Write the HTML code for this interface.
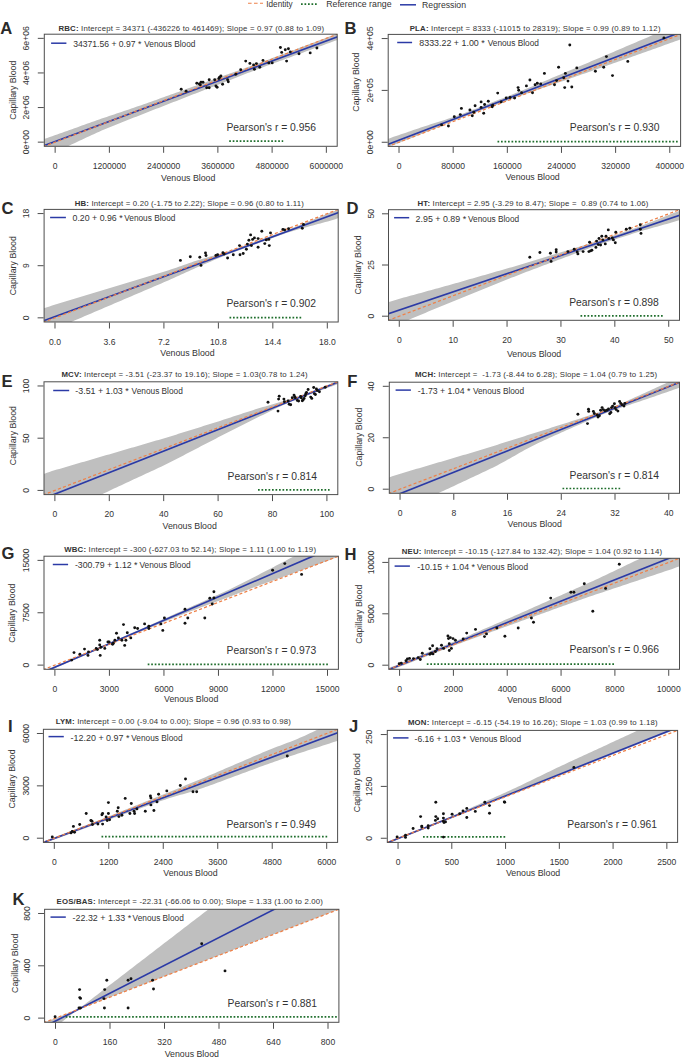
<!DOCTYPE html>
<html><head><meta charset="utf-8"><style>
html,body{margin:0;padding:0;background:#fff;width:685px;height:1059px;overflow:hidden}
svg{display:block}
text{font-family:"Liberation Sans", sans-serif}
</style></head><body>
<svg width="685" height="1059" viewBox="0 0 685 1059" font-family='"Liberation Sans", sans-serif' fill="#333333">
<line x1="248" y1="3.3" x2="263" y2="3.3" stroke="#ee8149" stroke-width="1.1" stroke-dasharray="3.6 2.4"/>
<text x="266.3" y="7" font-size="8.6" textLength="26.3" lengthAdjust="spacingAndGlyphs">Identity</text>
<line x1="301" y1="4.2" x2="318" y2="4.2" stroke="#1f6e2c" stroke-width="1.7" stroke-dasharray="1.7 1.8"/>
<text x="326.2" y="7" font-size="8.6" textLength="65.4" lengthAdjust="spacingAndGlyphs">Reference range</text>
<line x1="400" y1="4.8" x2="416" y2="4.8" stroke="#2b3aa6" stroke-width="1.5"/>
<text x="422.1" y="8.3" font-size="8.6" textLength="43.9" lengthAdjust="spacingAndGlyphs">Regression</text>
<clipPath id="c0"><rect x="44.3" y="34.2" width="292.9" height="112.1"/></clipPath>
<g clip-path="url(#c0)"><polygon points="42.3,139.77 44.77,138.87 47.25,137.98 49.72,137.08 52.2,136.18 54.67,135.3 57.14,134.42 59.62,133.54 62.09,132.66 64.57,131.78 67.04,130.9 69.52,130.02 71.99,129.14 74.46,128.26 76.94,127.38 79.41,126.5 81.89,125.61 84.36,124.73 86.83,123.85 89.31,122.97 91.78,122.09 94.26,121.22 96.73,120.35 99.21,119.48 101.68,118.62 104.15,117.77 106.63,116.92 109.1,116.07 111.58,115.23 114.05,114.4 116.52,113.56 119,112.73 121.47,111.9 123.95,111.06 126.42,110.23 128.9,109.4 131.37,108.56 133.84,107.72 136.32,106.87 138.79,106.01 141.27,105.15 143.74,104.29 146.21,103.42 148.69,102.54 151.16,101.66 153.64,100.77 156.11,99.89 158.59,99 161.06,98.12 163.53,97.23 166.01,96.34 168.48,95.46 170.96,94.57 173.43,93.69 175.9,92.8 178.38,91.92 180.85,91.03 183.33,90.15 185.8,89.26 188.28,88.37 190.75,87.49 193.22,86.6 195.7,85.72 198.17,84.83 200.65,83.95 203.12,83.06 205.59,82.18 208.07,81.29 210.54,80.4 213.02,79.52 215.49,78.63 217.97,77.75 220.44,76.86 222.91,75.98 225.39,75.09 227.86,74.21 230.34,73.32 232.81,72.44 235.28,71.55 237.76,70.66 240.23,69.78 242.71,68.89 245.18,68.01 247.66,67.12 250.13,66.24 252.6,65.35 255.08,64.45 257.55,63.55 260.03,62.64 262.5,61.73 264.97,60.82 267.45,59.9 269.92,58.97 272.4,58.04 274.87,57.11 277.35,56.18 279.82,55.24 282.29,54.31 284.77,53.38 287.24,52.45 289.72,51.52 292.19,50.59 294.66,49.66 297.14,48.73 299.61,47.79 302.09,46.86 304.56,45.93 307.04,45 309.51,44.07 311.98,43.14 314.46,42.21 316.93,41.28 319.41,40.34 321.88,39.41 324.36,38.48 326.83,37.55 329.3,36.62 331.78,35.7 334.25,34.77 336.73,33.85 339.2,32.92 339.2,39.28 336.73,40.19 334.25,41.11 331.78,42.02 329.3,42.93 326.83,43.84 324.36,44.74 321.88,45.65 319.41,46.55 316.93,47.46 314.46,48.37 311.98,49.27 309.51,50.18 307.04,51.08 304.56,51.99 302.09,52.89 299.61,53.8 297.14,54.71 294.66,55.61 292.19,56.52 289.72,57.42 287.24,58.33 284.77,59.24 282.29,60.14 279.82,61.05 277.35,61.95 274.87,62.86 272.4,63.76 269.92,64.67 267.45,65.58 264.97,66.5 262.5,67.43 260.03,68.36 257.55,69.3 255.08,70.25 252.6,71.2 250.13,72.16 247.66,73.12 245.18,74.09 242.71,75.05 240.23,76.02 237.76,76.99 235.28,77.95 232.81,78.92 230.34,79.88 227.86,80.85 225.39,81.82 222.91,82.78 220.44,83.75 217.97,84.71 215.49,85.68 213.02,86.65 210.54,87.61 208.07,88.58 205.59,89.54 203.12,90.51 200.65,91.48 198.17,92.44 195.7,93.41 193.22,94.37 190.75,95.34 188.28,96.31 185.8,97.27 183.33,98.24 180.85,99.2 178.38,100.17 175.9,101.14 173.43,102.1 170.96,103.07 168.48,104.03 166.01,105 163.53,105.96 161.06,106.93 158.59,107.9 156.11,108.86 153.64,109.83 151.16,110.79 148.69,111.76 146.21,112.73 143.74,113.7 141.27,114.67 138.79,115.65 136.32,116.63 133.84,117.6 131.37,118.58 128.9,119.57 126.42,120.55 123.95,121.53 121.47,122.52 119,123.5 116.52,124.49 114.05,125.47 111.58,126.46 109.1,127.46 106.63,128.49 104.15,129.53 101.68,130.59 99.21,131.67 96.73,132.78 94.26,133.9 91.78,135.04 89.31,136.19 86.83,137.35 84.36,138.5 81.89,139.66 79.41,140.82 76.94,141.97 74.46,143.13 71.99,144.29 69.52,145.46 67.04,146.63 64.57,147.81 62.09,148.98 59.62,150.17 57.14,151.35 54.67,152.55 52.2,153.74 49.72,154.79 47.25,155.85 44.77,156.91 42.3,157.96" fill="#bfbfbf"/><line x1="229.2" y1="141.1" x2="283.2" y2="141.1" stroke="#1f6e2c" stroke-width="1.7" stroke-dasharray="1.7 1.8"/><line x1="42.3" y1="146.32" x2="339.2" y2="36.1" stroke="#2b3aa6" stroke-width="1.65"/><line x1="28.03" y1="152.53" x2="353.47" y2="27.97" stroke="#ee8149" stroke-width="1.25" stroke-dasharray="3.1 2.3"/><circle cx="181.2" cy="89.2" r="1.45" fill="#111"/><circle cx="186.1" cy="91.2" r="1.45" fill="#111"/><circle cx="196.8" cy="83.2" r="1.45" fill="#111"/><circle cx="199.3" cy="84" r="1.45" fill="#111"/><circle cx="201" cy="82.2" r="1.45" fill="#111"/><circle cx="203" cy="82.2" r="1.45" fill="#111"/><circle cx="200.3" cy="84.7" r="1.45" fill="#111"/><circle cx="206.7" cy="87.7" r="1.45" fill="#111"/><circle cx="209.2" cy="87.7" r="1.45" fill="#111"/><circle cx="209.2" cy="79.7" r="1.45" fill="#111"/><circle cx="214.7" cy="79.7" r="1.45" fill="#111"/><circle cx="215.9" cy="86" r="1.45" fill="#111"/><circle cx="217.1" cy="87.2" r="1.45" fill="#111"/><circle cx="218.9" cy="78.5" r="1.45" fill="#111"/><circle cx="220.9" cy="76" r="1.45" fill="#111"/><circle cx="219.6" cy="77.3" r="1.45" fill="#111"/><circle cx="222.6" cy="84.2" r="1.45" fill="#111"/><circle cx="227.6" cy="79.7" r="1.45" fill="#111"/><circle cx="228.3" cy="81.7" r="1.45" fill="#111"/><circle cx="235.8" cy="74.3" r="1.45" fill="#111"/><circle cx="240.7" cy="69.8" r="1.45" fill="#111"/><circle cx="245.7" cy="61.1" r="1.45" fill="#111"/><circle cx="249.9" cy="63.4" r="1.45" fill="#111"/><circle cx="253.6" cy="64.9" r="1.45" fill="#111"/><circle cx="254.4" cy="69.3" r="1.45" fill="#111"/><circle cx="256.4" cy="63.6" r="1.45" fill="#111"/><circle cx="259.8" cy="67.3" r="1.45" fill="#111"/><circle cx="263" cy="60.4" r="1.45" fill="#111"/><circle cx="268.8" cy="62.9" r="1.45" fill="#111"/><circle cx="272.2" cy="62.9" r="1.45" fill="#111"/><circle cx="280.4" cy="47.5" r="1.45" fill="#111"/><circle cx="281.7" cy="52.4" r="1.45" fill="#111"/><circle cx="286.6" cy="61.1" r="1.45" fill="#111"/><circle cx="288.4" cy="48.7" r="1.45" fill="#111"/><circle cx="290.3" cy="51.9" r="1.45" fill="#111"/><circle cx="299" cy="53.7" r="1.45" fill="#111"/><circle cx="310.2" cy="52.9" r="1.45" fill="#111"/><circle cx="316.9" cy="48" r="1.45" fill="#111"/><circle cx="285.3" cy="49.7" r="1.45" fill="#111"/></g>
<rect x="44.3" y="34.2" width="292.9" height="112.1" fill="none" stroke="#4d4d4d" stroke-width="1"/>
<text x="55.15" y="168.9" text-anchor="middle" font-size="8.6">0</text>
<text x="109.39" y="168.9" text-anchor="middle" font-size="8.6">1200000</text>
<text x="163.63" y="168.9" text-anchor="middle" font-size="8.6">2400000</text>
<text x="217.87" y="168.9" text-anchor="middle" font-size="8.6">3600000</text>
<text x="272.11" y="168.9" text-anchor="middle" font-size="8.6">4800000</text>
<text x="326.35" y="168.9" text-anchor="middle" font-size="8.6">6000000</text>
<text transform="translate(29.4 142.15) rotate(-90)" text-anchor="middle" font-size="8.6">0e+00</text>
<text transform="translate(29.4 107.55) rotate(-90)" text-anchor="middle" font-size="8.6">2e+06</text>
<text transform="translate(29.4 72.95) rotate(-90)" text-anchor="middle" font-size="8.6">4e+06</text>
<text transform="translate(29.4 38.35) rotate(-90)" text-anchor="middle" font-size="8.6">6e+06</text>
<path d="M55.15 146.8v6M109.39 146.8v6M163.63 146.8v6M217.87 146.8v6M272.11 146.8v6M326.35 146.8v6M43.8 142.15h-6M43.8 107.55h-6M43.8 72.95h-6M43.8 38.35h-6" stroke="#4d4d4d" stroke-width="1" fill="none"/>
<text x="161.1" y="181" font-size="8.8">Venous Blood</text>
<text transform="translate(16.2 90.25) rotate(-90)" text-anchor="middle" font-size="8.8">Capillary Blood</text>
<text x="58.4" y="31.1" font-size="7.8" textLength="265.8" lengthAdjust="spacing" style="white-space:pre"><tspan font-weight="bold">RBC:</tspan> Intercept = 34371 (-436226 to 461469); Slope = 0.97 (0.88 to 1.09)</text>
<line x1="51.1" y1="43.2" x2="66.4" y2="43.2" stroke="#2b3aa6" stroke-width="1.5"/>
<text x="73.2" y="47.1" font-size="9.1" textLength="68.1" lengthAdjust="spacingAndGlyphs" style="white-space:pre">34371.56 + 0.97 *</text>
<text x="144.2" y="47.1" font-size="8.3">Venous Blood</text>
<text x="226.4" y="131.1" font-size="10.6" textLength="89.6" lengthAdjust="spacingAndGlyphs">Pearson's r = 0.956</text>
<text x="0.3" y="33.5" font-size="16.6" font-weight="bold" fill="#2a2a2a">A</text>
<clipPath id="c1"><rect x="388.2" y="34.4" width="292.4" height="112"/></clipPath>
<g clip-path="url(#c1)"><polygon points="386.2,139.54 388.67,138.65 391.14,137.76 393.61,136.87 396.08,135.98 398.55,135.14 401.02,134.3 403.49,133.46 405.96,132.63 408.43,131.79 410.9,130.95 413.37,130.11 415.84,129.27 418.31,128.44 420.78,127.6 423.25,126.78 425.72,125.96 428.19,125.15 430.66,124.35 433.13,123.56 435.6,122.77 438.07,121.99 440.54,121.22 443.01,120.45 445.48,119.67 447.95,118.87 450.42,118.05 452.89,117.21 455.36,116.35 457.83,115.47 460.3,114.56 462.77,113.64 465.24,112.7 467.71,111.74 470.18,110.79 472.65,109.84 475.12,108.88 477.59,107.93 480.06,106.97 482.53,106.02 485,105.07 487.47,104.11 489.94,103.16 492.41,102.21 494.88,101.25 497.35,100.3 499.82,99.35 502.29,98.39 504.76,97.44 507.23,96.49 509.7,95.53 512.17,94.57 514.64,93.6 517.11,92.61 519.58,91.62 522.05,90.62 524.52,89.6 526.99,88.58 529.46,87.54 531.93,86.49 534.4,85.45 536.87,84.4 539.34,83.35 541.81,82.3 544.28,81.25 546.75,80.21 549.22,79.16 551.69,78.11 554.16,77.06 556.63,76.01 559.1,74.97 561.57,73.92 564.04,72.87 566.51,71.82 568.98,70.77 571.45,69.73 573.92,68.68 576.39,67.63 578.86,66.58 581.33,65.53 583.8,64.49 586.27,63.44 588.74,62.39 591.21,61.34 593.68,60.29 596.15,59.24 598.62,58.19 601.09,57.14 603.56,56.09 606.03,55.04 608.5,53.99 610.97,52.94 613.44,51.88 615.91,50.83 618.38,49.78 620.85,48.73 623.32,47.67 625.79,46.62 628.26,45.57 630.73,44.51 633.2,43.46 635.67,42.41 638.14,41.36 640.61,40.3 643.08,39.25 645.55,38.2 648.02,37.14 650.49,36.09 652.96,35.04 655.43,33.99 657.9,32.93 660.37,31.88 662.84,30.83 665.31,29.77 667.78,28.72 670.25,27.67 672.72,26.62 675.19,25.62 677.66,24.62 680.13,23.62 682.6,22.62 682.6,38.58 680.13,39.5 677.66,40.41 675.19,41.32 672.72,42.23 670.25,43.11 667.78,43.99 665.31,44.87 662.84,45.75 660.37,46.63 657.9,47.51 655.43,48.39 652.96,49.27 650.49,50.14 648.02,51.02 645.55,51.9 643.08,52.78 640.61,53.66 638.14,54.54 635.67,55.42 633.2,56.3 630.73,57.18 628.26,58.06 625.79,58.93 623.32,59.81 620.85,60.69 618.38,61.57 615.91,62.45 613.44,63.33 610.97,64.21 608.5,65.09 606.03,65.96 603.56,66.84 601.09,67.71 598.62,68.58 596.15,69.44 593.68,70.31 591.21,71.17 588.74,72.03 586.27,72.89 583.8,73.75 581.33,74.61 578.86,75.47 576.39,76.33 573.92,77.19 571.45,78.05 568.98,78.91 566.51,79.77 564.04,80.63 561.57,81.49 559.1,82.35 556.63,83.21 554.16,84.07 551.69,84.93 549.22,85.79 546.75,86.65 544.28,87.5 541.81,88.36 539.34,89.22 536.87,90.08 534.4,90.94 531.93,91.8 529.46,92.66 526.99,93.53 524.52,94.41 522.05,95.29 519.58,96.17 517.11,97.07 514.64,97.97 512.17,98.88 509.7,99.79 507.23,100.71 504.76,101.63 502.29,102.55 499.82,103.47 497.35,104.39 494.88,105.31 492.41,106.23 489.94,107.15 487.47,108.07 485,108.99 482.53,109.91 480.06,110.83 477.59,111.75 475.12,112.67 472.65,113.59 470.18,114.51 467.71,115.43 465.24,116.35 462.77,117.28 460.3,118.22 457.83,119.17 455.36,120.14 452.89,121.12 450.42,122.11 447.95,123.12 445.48,124.15 443.01,125.18 440.54,126.23 438.07,127.27 435.6,128.3 433.13,129.33 430.66,130.34 428.19,131.35 425.72,132.35 423.25,133.34 420.78,134.31 418.31,135.28 415.84,136.25 413.37,137.21 410.9,138.18 408.43,139.14 405.96,140.11 403.49,141.07 401.02,142.03 398.55,143 396.08,143.96 393.61,144.92 391.14,145.87 388.67,146.83 386.2,147.78" fill="#bfbfbf"/><line x1="497.5" y1="141.7" x2="678.5" y2="141.7" stroke="#1f6e2c" stroke-width="1.7" stroke-dasharray="1.7 1.8"/><line x1="386.2" y1="145.01" x2="682.6" y2="31.47" stroke="#2b3aa6" stroke-width="1.65"/><line x1="371.96" y1="152.62" x2="696.84" y2="28.18" stroke="#ee8149" stroke-width="1.25" stroke-dasharray="3.1 2.3"/><circle cx="441.6" cy="124.9" r="1.45" fill="#111"/><circle cx="448.4" cy="126" r="1.45" fill="#111"/><circle cx="454.3" cy="116.8" r="1.45" fill="#111"/><circle cx="460.3" cy="114.6" r="1.45" fill="#111"/><circle cx="461.4" cy="108.4" r="1.45" fill="#111"/><circle cx="469.9" cy="110" r="1.45" fill="#111"/><circle cx="472.3" cy="115.7" r="1.45" fill="#111"/><circle cx="473.8" cy="112.2" r="1.45" fill="#111"/><circle cx="475.1" cy="105.8" r="1.45" fill="#111"/><circle cx="481.1" cy="101.9" r="1.45" fill="#111"/><circle cx="481.1" cy="107.4" r="1.45" fill="#111"/><circle cx="483.7" cy="113.3" r="1.45" fill="#111"/><circle cx="484.6" cy="104.5" r="1.45" fill="#111"/><circle cx="488.3" cy="101.2" r="1.45" fill="#111"/><circle cx="492.2" cy="106.7" r="1.45" fill="#111"/><circle cx="492.7" cy="105.2" r="1.45" fill="#111"/><circle cx="497.7" cy="93.1" r="1.45" fill="#111"/><circle cx="501.2" cy="101.9" r="1.45" fill="#111"/><circle cx="506.2" cy="98" r="1.45" fill="#111"/><circle cx="510" cy="97.5" r="1.45" fill="#111"/><circle cx="514.6" cy="98" r="1.45" fill="#111"/><circle cx="518.1" cy="87.6" r="1.45" fill="#111"/><circle cx="518.7" cy="90.3" r="1.45" fill="#111"/><circle cx="521.6" cy="92.7" r="1.45" fill="#111"/><circle cx="526.4" cy="85.9" r="1.45" fill="#111"/><circle cx="529.9" cy="80" r="1.45" fill="#111"/><circle cx="532.5" cy="92.7" r="1.45" fill="#111"/><circle cx="535.1" cy="84.8" r="1.45" fill="#111"/><circle cx="537.3" cy="83.3" r="1.45" fill="#111"/><circle cx="540.7" cy="83.9" r="1.45" fill="#111"/><circle cx="544.4" cy="73.4" r="1.45" fill="#111"/><circle cx="554.5" cy="84.8" r="1.45" fill="#111"/><circle cx="556.6" cy="80.6" r="1.45" fill="#111"/><circle cx="558.6" cy="67.3" r="1.45" fill="#111"/><circle cx="563.7" cy="77.8" r="1.45" fill="#111"/><circle cx="564.7" cy="87.6" r="1.45" fill="#111"/><circle cx="565.4" cy="73.4" r="1.45" fill="#111"/><circle cx="568" cy="81.1" r="1.45" fill="#111"/><circle cx="569.8" cy="45" r="1.45" fill="#111"/><circle cx="571.8" cy="87" r="1.45" fill="#111"/><circle cx="576.8" cy="67.9" r="1.45" fill="#111"/><circle cx="595.4" cy="71.2" r="1.45" fill="#111"/><circle cx="603.7" cy="67.3" r="1.45" fill="#111"/><circle cx="606.4" cy="56.6" r="1.45" fill="#111"/><circle cx="612.5" cy="75.6" r="1.45" fill="#111"/><circle cx="627.8" cy="61.4" r="1.45" fill="#111"/><circle cx="663.9" cy="37.9" r="1.45" fill="#111"/></g>
<rect x="388.2" y="34.4" width="292.4" height="112" fill="none" stroke="#4d4d4d" stroke-width="1"/>
<text x="399.03" y="169" text-anchor="middle" font-size="8.6">0</text>
<text x="453.18" y="169" text-anchor="middle" font-size="8.6">80000</text>
<text x="507.33" y="169" text-anchor="middle" font-size="8.6">160000</text>
<text x="561.47" y="169" text-anchor="middle" font-size="8.6">240000</text>
<text x="615.62" y="169" text-anchor="middle" font-size="8.6">320000</text>
<text x="669.77" y="169" text-anchor="middle" font-size="8.6">400000</text>
<text transform="translate(373.3 142.25) rotate(-90)" text-anchor="middle" font-size="8.6">0e+00</text>
<text transform="translate(373.3 90.4) rotate(-90)" text-anchor="middle" font-size="8.6">2e+05</text>
<text transform="translate(373.3 38.55) rotate(-90)" text-anchor="middle" font-size="8.6">4e+05</text>
<path d="M399.03 146.9v6M453.18 146.9v6M507.33 146.9v6M561.47 146.9v6M615.62 146.9v6M669.77 146.9v6M387.7 142.25h-6M387.7 90.4h-6M387.7 38.55h-6" stroke="#4d4d4d" stroke-width="1" fill="none"/>
<text x="505.4" y="179.9" font-size="8.8">Venous Blood</text>
<text transform="translate(358.5 82.1) rotate(-90)" text-anchor="middle" font-size="8.8">Capillary Blood</text>
<text x="409.7" y="30.7" font-size="7.8" textLength="250.8" lengthAdjust="spacing" style="white-space:pre"><tspan font-weight="bold">PLA:</tspan> Intercept = 8333 (-11015 to 28319); Slope = 0.99 (0.89 to 1.12)</text>
<line x1="397.2" y1="42.5" x2="412.1" y2="42.5" stroke="#2b3aa6" stroke-width="1.5"/>
<text x="419.3" y="46.4" font-size="9.1" textLength="65.4" lengthAdjust="spacingAndGlyphs" style="white-space:pre">8333.22 + 1.00 *</text>
<text x="487.7" y="46.4" font-size="8.3">Venous Blood</text>
<text x="569.8" y="131.4" font-size="10.6" textLength="89.6" lengthAdjust="spacingAndGlyphs">Pearson's r = 0.930</text>
<text x="344.4" y="34" font-size="16.6" font-weight="bold" fill="#2a2a2a">B</text>
<clipPath id="c2"><rect x="44.1" y="209.4" width="294.1" height="112.6"/></clipPath>
<g clip-path="url(#c2)"><polygon points="42.1,308.91 44.58,308.08 47.07,307.25 49.55,306.42 52.04,305.59 54.52,304.84 57.01,304.09 59.49,303.34 61.97,302.6 64.46,301.85 66.94,301.1 69.43,300.35 71.91,299.6 74.39,298.85 76.88,298.1 79.36,297.35 81.85,296.61 84.33,295.86 86.81,295.11 89.3,294.36 91.78,293.61 94.27,292.86 96.75,292.11 99.24,291.37 101.72,290.62 104.2,289.87 106.69,289.12 109.17,288.37 111.66,287.62 114.14,286.87 116.62,286.12 119.11,285.37 121.59,284.62 124.08,283.87 126.56,283.12 129.05,282.37 131.53,281.62 134.01,280.87 136.5,280.12 138.98,279.37 141.47,278.62 143.95,277.87 146.44,277.12 148.92,276.37 151.4,275.62 153.89,274.87 156.37,274.11 158.86,273.35 161.34,272.58 163.82,271.79 166.31,270.99 168.79,270.18 171.28,269.36 173.76,268.52 176.24,267.66 178.73,266.8 181.21,265.93 183.7,265.06 186.18,264.19 188.67,263.32 191.15,262.45 193.63,261.61 196.12,260.79 198.6,259.99 201.09,259.22 203.57,258.47 206.05,257.74 208.54,257.04 211.02,256.37 213.51,255.71 215.99,255.05 218.48,254.35 220.96,253.63 223.44,252.89 225.93,252.11 228.41,251.31 230.9,250.47 233.38,249.61 235.86,248.73 238.35,247.82 240.83,246.91 243.32,246.01 245.8,245.1 248.29,244.2 250.77,243.29 253.25,242.39 255.74,241.48 258.22,240.58 260.71,239.67 263.19,238.77 265.67,237.86 268.16,236.95 270.64,236.05 273.13,235.14 275.61,234.24 278.1,233.33 280.58,232.43 283.06,231.51 285.55,230.57 288.03,229.63 290.52,228.68 293,227.71 295.48,226.73 297.97,225.74 300.45,224.74 302.94,223.73 305.42,222.72 307.91,221.7 310.39,220.69 312.87,219.68 315.36,218.67 317.84,217.66 320.33,216.65 322.81,215.64 325.29,214.62 327.78,213.61 330.26,212.6 332.75,211.64 335.23,210.68 337.72,209.72 340.2,208.75 340.2,217.57 337.72,218.36 335.23,219.16 332.75,219.95 330.26,220.74 327.78,221.41 325.29,222.08 322.81,222.75 320.33,223.42 317.84,224.09 315.36,224.76 312.87,225.43 310.39,226.1 307.91,226.77 305.42,227.44 302.94,228.11 300.45,228.78 297.97,229.47 295.48,230.19 293,230.93 290.52,231.7 288.03,232.5 285.55,233.33 283.06,234.18 280.58,235.06 278.1,235.97 275.61,236.88 273.13,237.8 270.64,238.71 268.16,239.62 265.67,240.54 263.19,241.45 260.71,242.36 258.22,243.27 255.74,244.19 253.25,245.1 250.77,246.01 248.29,246.93 245.8,247.84 243.32,248.75 240.83,249.67 238.35,250.58 235.86,251.49 233.38,252.41 230.9,253.35 228.41,254.3 225.93,255.27 223.44,256.25 220.96,257.25 218.48,258.26 215.99,259.29 213.51,260.33 211.02,261.38 208.54,262.44 206.05,263.5 203.57,264.57 201.09,265.65 198.6,266.74 196.12,267.84 193.63,268.95 191.15,270.07 188.67,271.19 186.18,272.32 183.7,273.44 181.21,274.57 178.73,275.69 176.24,276.81 173.76,277.93 171.28,279.04 168.79,280.14 166.31,281.24 163.82,282.32 161.34,283.4 158.86,284.48 156.37,285.54 153.89,286.6 151.4,287.67 148.92,288.73 146.44,289.79 143.95,290.85 141.47,291.91 138.98,292.97 136.5,294.03 134.01,295.09 131.53,296.15 129.05,297.22 126.56,298.28 124.08,299.34 121.59,300.4 119.11,301.46 116.62,302.52 114.14,303.58 111.66,304.65 109.17,305.71 106.69,306.77 104.2,307.83 101.72,308.89 99.24,309.96 96.75,311.02 94.27,312.08 91.78,313.14 89.3,314.2 86.81,315.27 84.33,316.33 81.85,317.39 79.36,318.45 76.88,319.52 74.39,320.58 71.91,321.65 69.43,322.72 66.94,323.79 64.46,324.86 61.97,325.93 59.49,327.01 57.01,328.08 54.52,329.16 52.04,330.23 49.55,331.23 47.07,332.22 44.58,333.21 42.1,334.21" fill="#bfbfbf"/><line x1="229.5" y1="317.6" x2="301.5" y2="317.6" stroke="#1f6e2c" stroke-width="1.7" stroke-dasharray="1.7 1.8"/><line x1="42.1" y1="321.41" x2="340.2" y2="211.84" stroke="#2b3aa6" stroke-width="1.65"/><line x1="27.76" y1="328.26" x2="354.54" y2="203.14" stroke="#ee8149" stroke-width="1.25" stroke-dasharray="3.1 2.3"/><circle cx="180.4" cy="260.4" r="1.45" fill="#111"/><circle cx="190.3" cy="256.7" r="1.45" fill="#111"/><circle cx="199.8" cy="257.2" r="1.45" fill="#111"/><circle cx="201" cy="265.4" r="1.45" fill="#111"/><circle cx="205.5" cy="253" r="1.45" fill="#111"/><circle cx="206" cy="255.5" r="1.45" fill="#111"/><circle cx="215.9" cy="255.5" r="1.45" fill="#111"/><circle cx="217.6" cy="254.7" r="1.45" fill="#111"/><circle cx="222.9" cy="252.8" r="1.45" fill="#111"/><circle cx="224.1" cy="254" r="1.45" fill="#111"/><circle cx="227.6" cy="258" r="1.45" fill="#111"/><circle cx="233.3" cy="254.7" r="1.45" fill="#111"/><circle cx="239.5" cy="245.6" r="1.45" fill="#111"/><circle cx="240" cy="254.7" r="1.45" fill="#111"/><circle cx="243.2" cy="253.5" r="1.45" fill="#111"/><circle cx="246.4" cy="249.3" r="1.45" fill="#111"/><circle cx="247.4" cy="244.1" r="1.45" fill="#111"/><circle cx="248.9" cy="240.3" r="1.45" fill="#111"/><circle cx="250.6" cy="234.9" r="1.45" fill="#111"/><circle cx="251.4" cy="245.6" r="1.45" fill="#111"/><circle cx="254.4" cy="237.9" r="1.45" fill="#111"/><circle cx="252.6" cy="239.4" r="1.45" fill="#111"/><circle cx="258.1" cy="238.6" r="1.45" fill="#111"/><circle cx="258.1" cy="247.3" r="1.45" fill="#111"/><circle cx="261.8" cy="231.2" r="1.45" fill="#111"/><circle cx="264.8" cy="243.6" r="1.45" fill="#111"/><circle cx="266.3" cy="239.9" r="1.45" fill="#111"/><circle cx="268.8" cy="239.4" r="1.45" fill="#111"/><circle cx="269.3" cy="245.6" r="1.45" fill="#111"/><circle cx="270.5" cy="232.9" r="1.45" fill="#111"/><circle cx="282.9" cy="229.4" r="1.45" fill="#111"/><circle cx="284.6" cy="229.9" r="1.45" fill="#111"/><circle cx="288.6" cy="228.7" r="1.45" fill="#111"/><circle cx="302.3" cy="228.2" r="1.45" fill="#111"/><circle cx="303.5" cy="224.5" r="1.45" fill="#111"/></g>
<rect x="44.1" y="209.4" width="294.1" height="112.6" fill="none" stroke="#4d4d4d" stroke-width="1"/>
<text x="54.99" y="344.6" text-anchor="middle" font-size="8.6">0.0</text>
<text x="109.46" y="344.6" text-anchor="middle" font-size="8.6">3.6</text>
<text x="163.92" y="344.6" text-anchor="middle" font-size="8.6">7.2</text>
<text x="218.38" y="344.6" text-anchor="middle" font-size="8.6">10.8</text>
<text x="272.84" y="344.6" text-anchor="middle" font-size="8.6">14.4</text>
<text x="327.31" y="344.6" text-anchor="middle" font-size="8.6">18.0</text>
<text transform="translate(29.2 317.83) rotate(-90)" text-anchor="middle" font-size="8.6">0</text>
<text transform="translate(29.2 265.7) rotate(-90)" text-anchor="middle" font-size="8.6">9</text>
<text transform="translate(29.2 213.57) rotate(-90)" text-anchor="middle" font-size="8.6">18</text>
<path d="M54.99 322.5v6M109.46 322.5v6M163.92 322.5v6M218.38 322.5v6M272.84 322.5v6M327.31 322.5v6M43.6 317.83h-6M43.6 265.7h-6M43.6 213.57h-6" stroke="#4d4d4d" stroke-width="1" fill="none"/>
<text x="160.3" y="356.1" font-size="8.8">Venous Blood</text>
<text transform="translate(15.8 265.7) rotate(-90)" text-anchor="middle" font-size="8.8">Capillary Blood</text>
<text x="74.7" y="206.2" font-size="7.8" textLength="229.2" lengthAdjust="spacing" style="white-space:pre"><tspan font-weight="bold">HB:</tspan> Intercept = 0.20 (-1.75 to 2.22); Slope = 0.96 (0.80 to 1.11)</text>
<line x1="50.1" y1="217.5" x2="65.9" y2="217.5" stroke="#2b3aa6" stroke-width="1.5"/>
<text x="72.5" y="221.4" font-size="9.1" textLength="50.1" lengthAdjust="spacingAndGlyphs" style="white-space:pre">0.20 + 0.96 *</text>
<text x="124.2" y="221.4" font-size="8.3">Venous Blood</text>
<text x="226.4" y="306.5" font-size="10.6" textLength="89.6" lengthAdjust="spacingAndGlyphs">Pearson's r = 0.902</text>
<text x="1.4" y="214.3" font-size="16.6" font-weight="bold" fill="#2a2a2a">C</text>
<clipPath id="c3"><rect x="388.5" y="209.7" width="291" height="110.6"/></clipPath>
<g clip-path="url(#c3)"><polygon points="386.5,302.64 388.96,301.89 391.42,301.13 393.88,300.38 396.33,299.63 398.79,298.96 401.25,298.28 403.71,297.61 406.17,296.93 408.62,296.26 411.08,295.59 413.54,294.91 416,294.24 418.46,293.57 420.92,292.89 423.38,292.22 425.83,291.55 428.29,290.87 430.75,290.2 433.21,289.53 435.67,288.85 438.12,288.17 440.58,287.49 443.04,286.81 445.5,286.12 447.96,285.43 450.42,284.74 452.88,284.04 455.33,283.34 457.79,282.63 460.25,281.93 462.71,281.23 465.17,280.52 467.62,279.82 470.08,279.12 472.54,278.41 475,277.71 477.46,277 479.92,276.3 482.38,275.6 484.83,274.89 487.29,274.19 489.75,273.49 492.21,272.78 494.67,272.08 497.12,271.37 499.58,270.67 502.04,269.97 504.5,269.26 506.96,268.56 509.42,267.86 511.88,267.15 514.33,266.43 516.79,265.72 519.25,264.99 521.71,264.26 524.17,263.52 526.62,262.78 529.08,262.04 531.54,261.28 534,260.53 536.46,259.77 538.92,259.02 541.38,258.26 543.83,257.51 546.29,256.75 548.75,256 551.21,255.24 553.67,254.49 556.12,253.74 558.58,252.98 561.04,252.23 563.5,251.47 565.96,250.72 568.42,249.96 570.88,249.21 573.33,248.45 575.79,247.7 578.25,246.94 580.71,246.19 583.17,245.43 585.62,244.68 588.08,243.92 590.54,243.17 593,242.4 595.46,241.62 597.92,240.83 600.38,240.03 602.83,239.22 605.29,238.39 607.75,237.56 610.21,236.71 612.67,235.86 615.12,235 617.58,234.15 620.04,233.29 622.5,232.44 624.96,231.58 627.42,230.73 629.88,229.88 632.33,229.02 634.79,228.15 637.25,227.26 639.71,226.36 642.17,225.45 644.62,224.52 647.08,223.57 649.54,222.61 652,221.63 654.46,220.65 656.92,219.66 659.38,218.67 661.83,217.68 664.29,216.69 666.75,215.7 669.21,214.71 671.67,213.72 674.12,212.81 676.58,211.9 679.04,210.99 681.5,210.08 681.5,219.53 679.04,220.28 676.58,221.04 674.12,221.79 671.67,222.55 669.21,223.23 666.75,223.91 664.29,224.59 661.83,225.27 659.38,225.95 656.92,226.63 654.46,227.31 652,227.99 649.54,228.68 647.08,229.39 644.62,230.1 642.17,230.83 639.71,231.57 637.25,232.33 634.79,233.09 632.33,233.87 629.88,234.66 627.42,235.45 624.96,236.24 622.5,237.03 620.04,237.82 617.58,238.61 615.12,239.4 612.67,240.19 610.21,240.98 607.75,241.79 605.29,242.6 602.83,243.44 600.38,244.28 597.92,245.15 595.46,246.02 593,246.91 590.54,247.82 588.08,248.74 585.62,249.67 583.17,250.59 580.71,251.51 578.25,252.44 575.79,253.36 573.33,254.29 570.88,255.21 568.42,256.13 565.96,257.06 563.5,257.98 561.04,258.9 558.58,259.83 556.12,260.75 553.67,261.68 551.21,262.6 548.75,263.52 546.29,264.45 543.83,265.37 541.38,266.29 538.92,267.22 536.46,268.14 534,269.07 531.54,269.99 529.08,270.92 526.62,271.85 524.17,272.79 521.71,273.74 519.25,274.7 516.79,275.67 514.33,276.64 511.88,277.62 509.42,278.61 506.96,279.61 504.5,280.6 502.04,281.6 499.58,282.59 497.12,283.59 494.67,284.58 492.21,285.58 489.75,286.58 487.29,287.57 484.83,288.57 482.38,289.56 479.92,290.56 477.46,291.55 475,292.55 472.54,293.54 470.08,294.54 467.62,295.53 465.17,296.53 462.71,297.53 460.25,298.52 457.79,299.52 455.33,300.51 452.88,301.51 450.42,302.51 447.96,303.51 445.5,304.52 443.04,305.53 440.58,306.54 438.12,307.55 435.67,308.57 433.21,309.58 430.75,310.6 428.29,311.62 425.83,312.64 423.38,313.66 420.92,314.68 418.46,315.7 416,316.72 413.54,317.77 411.08,318.83 408.62,319.91 406.17,321.01 403.71,322.13 401.25,323.27 398.79,324.42 396.33,325.6 393.88,326.61 391.42,327.62 388.96,328.63 386.5,329.63" fill="#bfbfbf"/><line x1="580.5" y1="315.8" x2="664" y2="315.8" stroke="#1f6e2c" stroke-width="1.7" stroke-dasharray="1.7 1.8"/><line x1="386.5" y1="314.48" x2="681.5" y2="214.7" stroke="#2b3aa6" stroke-width="1.65"/><line x1="372.33" y1="326.44" x2="695.67" y2="203.56" stroke="#ee8149" stroke-width="1.25" stroke-dasharray="3.1 2.3"/><circle cx="529.8" cy="257.2" r="1.45" fill="#111"/><circle cx="539.9" cy="252.5" r="1.45" fill="#111"/><circle cx="550.4" cy="253.2" r="1.45" fill="#111"/><circle cx="551.1" cy="261.4" r="1.45" fill="#111"/><circle cx="556.2" cy="249.7" r="1.45" fill="#111"/><circle cx="556.2" cy="252" r="1.45" fill="#111"/><circle cx="567.9" cy="251.6" r="1.45" fill="#111"/><circle cx="574.2" cy="249.2" r="1.45" fill="#111"/><circle cx="577.2" cy="252" r="1.45" fill="#111"/><circle cx="577.9" cy="253.9" r="1.45" fill="#111"/><circle cx="583.1" cy="251.6" r="1.45" fill="#111"/><circle cx="588.9" cy="251.6" r="1.45" fill="#111"/><circle cx="590.5" cy="250.9" r="1.45" fill="#111"/><circle cx="589.6" cy="242.2" r="1.45" fill="#111"/><circle cx="591.9" cy="250.2" r="1.45" fill="#111"/><circle cx="595.9" cy="247.4" r="1.45" fill="#111"/><circle cx="596.6" cy="241.1" r="1.45" fill="#111"/><circle cx="598.3" cy="244.6" r="1.45" fill="#111"/><circle cx="599" cy="238.5" r="1.45" fill="#111"/><circle cx="600.6" cy="245" r="1.45" fill="#111"/><circle cx="601.8" cy="236.2" r="1.45" fill="#111"/><circle cx="602.9" cy="239.9" r="1.45" fill="#111"/><circle cx="605.3" cy="243.9" r="1.45" fill="#111"/><circle cx="606" cy="236.2" r="1.45" fill="#111"/><circle cx="608.3" cy="229.9" r="1.45" fill="#111"/><circle cx="608.8" cy="238.5" r="1.45" fill="#111"/><circle cx="612.3" cy="238" r="1.45" fill="#111"/><circle cx="613.4" cy="239.9" r="1.45" fill="#111"/><circle cx="615.3" cy="242.7" r="1.45" fill="#111"/><circle cx="615.8" cy="232.2" r="1.45" fill="#111"/><circle cx="626.3" cy="229.2" r="1.45" fill="#111"/><circle cx="629.8" cy="228.2" r="1.45" fill="#111"/><circle cx="640.3" cy="224.7" r="1.45" fill="#111"/><circle cx="640.3" cy="229.2" r="1.45" fill="#111"/><circle cx="641" cy="233.4" r="1.45" fill="#111"/></g>
<rect x="388.5" y="209.7" width="291" height="110.6" fill="none" stroke="#4d4d4d" stroke-width="1"/>
<text x="399.28" y="342.9" text-anchor="middle" font-size="8.6">0</text>
<text x="453.17" y="342.9" text-anchor="middle" font-size="8.6">10</text>
<text x="507.06" y="342.9" text-anchor="middle" font-size="8.6">20</text>
<text x="560.94" y="342.9" text-anchor="middle" font-size="8.6">30</text>
<text x="614.83" y="342.9" text-anchor="middle" font-size="8.6">40</text>
<text x="668.72" y="342.9" text-anchor="middle" font-size="8.6">50</text>
<text transform="translate(373.6 316.2) rotate(-90)" text-anchor="middle" font-size="8.6">0</text>
<text transform="translate(373.6 265) rotate(-90)" text-anchor="middle" font-size="8.6">25</text>
<text transform="translate(373.6 213.8) rotate(-90)" text-anchor="middle" font-size="8.6">50</text>
<path d="M399.28 320.8v6M453.17 320.8v6M507.06 320.8v6M560.94 320.8v6M614.83 320.8v6M668.72 320.8v6M388 316.2h-6M388 265h-6M388 213.8h-6" stroke="#4d4d4d" stroke-width="1" fill="none"/>
<text x="506.9" y="356.8" font-size="8.8">Venous Blood</text>
<text transform="translate(360.7 265) rotate(-90)" text-anchor="middle" font-size="8.8">Capillary Blood</text>
<text x="417.5" y="206.2" font-size="7.8" textLength="230.9" lengthAdjust="spacing" style="white-space:pre"><tspan font-weight="bold">HT:</tspan> Intercept = 2.95 (-3.29 to 8.47); Slope =  0.89 (0.74 to 1.06)</text>
<line x1="394.1" y1="217.7" x2="409.2" y2="217.7" stroke="#2b3aa6" stroke-width="1.5"/>
<text x="415.6" y="221.6" font-size="9.1" textLength="50.5" lengthAdjust="spacingAndGlyphs" style="white-space:pre">2.95 + 0.89 *</text>
<text x="468" y="221.6" font-size="8.3">Venous Blood</text>
<text x="569.2" y="305.5" font-size="10.6" textLength="89.6" lengthAdjust="spacingAndGlyphs">Pearson's r = 0.898</text>
<text x="346.4" y="214.4" font-size="16.6" font-weight="bold" fill="#2a2a2a">D</text>
<clipPath id="c4"><rect x="44" y="381.8" width="293.8" height="112.8"/></clipPath>
<g clip-path="url(#c4)"><polygon points="42,474.49 44.48,473.63 46.96,472.78 49.45,471.93 51.93,471.08 54.41,470.35 56.89,469.62 59.37,468.9 61.85,468.17 64.34,467.45 66.82,466.72 69.3,466 71.78,465.27 74.26,464.55 76.74,463.82 79.22,463.1 81.71,462.37 84.19,461.65 86.67,460.92 89.15,460.2 91.63,459.47 94.12,458.75 96.6,458.02 99.08,457.3 101.56,456.57 104.04,455.85 106.52,455.12 109.01,454.4 111.49,453.67 113.97,452.95 116.45,452.22 118.93,451.5 121.41,450.77 123.89,450.05 126.38,449.32 128.86,448.6 131.34,447.87 133.82,447.15 136.3,446.42 138.79,445.7 141.27,444.97 143.75,444.24 146.23,443.52 148.71,442.79 151.19,442.07 153.68,441.34 156.16,440.62 158.64,439.89 161.12,439.16 163.6,438.42 166.08,437.67 168.56,436.92 171.05,436.16 173.53,435.4 176.01,434.63 178.49,433.86 180.97,433.08 183.46,432.31 185.94,431.53 188.42,430.76 190.9,429.98 193.38,429.21 195.86,428.43 198.34,427.66 200.83,426.88 203.31,426.11 205.79,425.33 208.27,424.56 210.75,423.78 213.24,423 215.72,422.21 218.2,421.42 220.68,420.63 223.16,419.83 225.64,419.03 228.12,418.22 230.61,417.4 233.09,416.59 235.57,415.77 238.05,414.96 240.53,414.14 243.01,413.32 245.5,412.51 247.98,411.7 250.46,410.91 252.94,410.13 255.42,409.36 257.91,408.6 260.39,407.85 262.87,407.12 265.35,406.4 267.83,405.69 270.31,404.98 272.8,404.27 275.28,403.56 277.76,402.83 280.24,402.09 282.72,401.33 285.2,400.56 287.69,399.77 290.17,398.97 292.65,398.15 295.13,397.32 297.61,396.46 300.09,395.59 302.57,394.7 305.06,393.8 307.54,392.88 310.02,391.95 312.5,391 314.98,390.03 317.47,389.05 319.95,388.07 322.43,387.09 324.91,386.1 327.39,385.12 329.87,384.14 332.35,383.16 334.84,382.18 337.32,381.2 339.8,380.22 339.8,383.32 337.32,384.26 334.84,385.21 332.35,386.15 329.87,387.1 327.39,388 324.91,388.91 322.43,389.81 319.95,390.72 317.47,391.63 314.98,392.53 312.5,393.45 310.02,394.37 307.54,395.3 305.06,396.24 302.57,397.19 300.09,398.14 297.61,399.11 295.13,400.08 292.65,401.08 290.17,402.1 287.69,403.15 285.2,404.22 282.72,405.32 280.24,406.45 277.76,407.61 275.28,408.79 272.8,409.99 270.31,411.21 267.83,412.44 265.35,413.66 262.87,414.88 260.39,416.11 257.91,417.34 255.42,418.58 252.94,419.81 250.46,421.05 247.98,422.3 245.5,423.55 243.01,424.8 240.53,426.05 238.05,427.3 235.57,428.55 233.09,429.8 230.61,431.05 228.12,432.3 225.64,433.56 223.16,434.82 220.68,436.09 218.2,437.36 215.72,438.64 213.24,439.92 210.75,441.2 208.27,442.49 205.79,443.78 203.31,445.07 200.83,446.36 198.34,447.65 195.86,448.94 193.38,450.23 190.9,451.52 188.42,452.81 185.94,454.1 183.46,455.39 180.97,456.68 178.49,457.98 176.01,459.26 173.53,460.53 171.05,461.78 168.56,463.02 166.08,464.25 163.6,465.46 161.12,466.65 158.64,467.83 156.16,468.99 153.68,470.14 151.19,471.3 148.71,472.45 146.23,473.6 143.75,474.76 141.27,475.91 138.79,477.06 136.3,478.21 133.82,479.37 131.34,480.52 128.86,481.67 126.38,482.83 123.89,483.98 121.41,485.13 118.93,486.29 116.45,487.44 113.97,488.59 111.49,489.75 109.01,490.93 106.52,492.13 104.04,493.34 101.56,494.58 99.08,495.84 96.6,497.12 94.12,498.42 91.63,499.74 89.15,501.07 86.67,502.41 84.19,503.75 81.71,505.08 79.22,506.42 76.74,507.76 74.26,509.09 71.78,510.43 69.3,511.77 66.82,513.1 64.34,514.44 61.85,515.78 59.37,517.11 56.89,518.45 54.41,519.79 51.93,521.12 49.45,522.28 46.96,523.44 44.48,524.6 42,525.76" fill="#bfbfbf"/><line x1="258" y1="489.9" x2="329.6" y2="489.9" stroke="#1f6e2c" stroke-width="1.7" stroke-dasharray="1.7 1.8"/><line x1="42" y1="499.18" x2="339.8" y2="381.42" stroke="#2b3aa6" stroke-width="1.65"/><line x1="27.68" y1="500.87" x2="354.12" y2="375.53" stroke="#ee8149" stroke-width="1.25" stroke-dasharray="3.1 2.3"/><circle cx="268" cy="402.3" r="1.45" fill="#111"/><circle cx="278" cy="411.1" r="1.45" fill="#111"/><circle cx="279.2" cy="396.2" r="1.45" fill="#111"/><circle cx="278.6" cy="399.1" r="1.45" fill="#111"/><circle cx="283.9" cy="399.1" r="1.45" fill="#111"/><circle cx="284.4" cy="401.7" r="1.45" fill="#111"/><circle cx="288.1" cy="401" r="1.45" fill="#111"/><circle cx="289.2" cy="404.3" r="1.45" fill="#111"/><circle cx="290.7" cy="404.7" r="1.45" fill="#111"/><circle cx="292.3" cy="397.7" r="1.45" fill="#111"/><circle cx="294" cy="395.1" r="1.45" fill="#111"/><circle cx="294.7" cy="396.8" r="1.45" fill="#111"/><circle cx="295.3" cy="397.7" r="1.45" fill="#111"/><circle cx="297.3" cy="400.4" r="1.45" fill="#111"/><circle cx="298.6" cy="401" r="1.45" fill="#111"/><circle cx="300.6" cy="396.4" r="1.45" fill="#111"/><circle cx="301.2" cy="397.7" r="1.45" fill="#111"/><circle cx="302.3" cy="400.8" r="1.45" fill="#111"/><circle cx="303.2" cy="399.7" r="1.45" fill="#111"/><circle cx="304.1" cy="398.4" r="1.45" fill="#111"/><circle cx="305.2" cy="395.8" r="1.45" fill="#111"/><circle cx="305.8" cy="393.8" r="1.45" fill="#111"/><circle cx="306.5" cy="392.5" r="1.45" fill="#111"/><circle cx="308.1" cy="389.5" r="1.45" fill="#111"/><circle cx="310.7" cy="397.1" r="1.45" fill="#111"/><circle cx="311.8" cy="398.4" r="1.45" fill="#111"/><circle cx="313.7" cy="387.5" r="1.45" fill="#111"/><circle cx="314.4" cy="393.8" r="1.45" fill="#111"/><circle cx="315.4" cy="394.5" r="1.45" fill="#111"/><circle cx="316.4" cy="388.9" r="1.45" fill="#111"/><circle cx="317.3" cy="390.5" r="1.45" fill="#111"/><circle cx="319.4" cy="391.8" r="1.45" fill="#111"/><circle cx="325.2" cy="387.2" r="1.45" fill="#111"/></g>
<rect x="44" y="381.8" width="293.8" height="112.8" fill="none" stroke="#4d4d4d" stroke-width="1"/>
<text x="54.88" y="517.2" text-anchor="middle" font-size="8.6">0</text>
<text x="109.29" y="517.2" text-anchor="middle" font-size="8.6">20</text>
<text x="163.7" y="517.2" text-anchor="middle" font-size="8.6">40</text>
<text x="218.1" y="517.2" text-anchor="middle" font-size="8.6">60</text>
<text x="272.51" y="517.2" text-anchor="middle" font-size="8.6">80</text>
<text x="326.92" y="517.2" text-anchor="middle" font-size="8.6">100</text>
<text transform="translate(29.1 490.42) rotate(-90)" text-anchor="middle" font-size="8.6">0</text>
<text transform="translate(29.1 438.2) rotate(-90)" text-anchor="middle" font-size="8.6">50</text>
<text transform="translate(29.1 385.98) rotate(-90)" text-anchor="middle" font-size="8.6">100</text>
<path d="M54.88 495.1v6M109.29 495.1v6M163.7 495.1v6M218.1 495.1v6M272.51 495.1v6M326.92 495.1v6M43.5 490.42h-6M43.5 438.2h-6M43.5 385.98h-6" stroke="#4d4d4d" stroke-width="1" fill="none"/>
<text x="162.5" y="529.2" font-size="8.8">Venous Blood</text>
<text transform="translate(16.4 435.6) rotate(-90)" text-anchor="middle" font-size="8.8">Capillary Blood</text>
<text x="61.4" y="377" font-size="7.8" textLength="246.3" lengthAdjust="spacing" style="white-space:pre"><tspan font-weight="bold">MCV:</tspan> Intercept = -3.51 (-23.37 to 19.16); Slope = 1.03(0.78 to 1.24)</text>
<line x1="53.2" y1="390.5" x2="69.2" y2="390.5" stroke="#2b3aa6" stroke-width="1.5"/>
<text x="75.3" y="394.4" font-size="9.1" textLength="53.4" lengthAdjust="spacingAndGlyphs" style="white-space:pre">-3.51 + 1.03 *</text>
<text x="131.6" y="394.4" font-size="8.3">Venous Blood</text>
<text x="227.5" y="479.8" font-size="10.6" textLength="89.6" lengthAdjust="spacingAndGlyphs">Pearson's r = 0.814</text>
<text x="1.6" y="387" font-size="16.6" font-weight="bold" fill="#2a2a2a">E</text>
<clipPath id="c5"><rect x="389.3" y="382.2" width="290.2" height="111.1"/></clipPath>
<g clip-path="url(#c5)"><polygon points="387.3,478.04 389.75,477.19 392.2,476.34 394.66,475.49 397.11,474.64 399.56,473.92 402.01,473.2 404.46,472.47 406.91,471.75 409.37,471.03 411.82,470.31 414.27,469.58 416.72,468.86 419.17,468.14 421.62,467.41 424.07,466.69 426.53,465.97 428.98,465.25 431.43,464.52 433.88,463.8 436.33,463.08 438.79,462.35 441.24,461.63 443.69,460.91 446.14,460.19 448.59,459.46 451.04,458.74 453.5,458.02 455.95,457.29 458.4,456.57 460.85,455.85 463.3,455.12 465.75,454.4 468.21,453.68 470.66,452.96 473.11,452.23 475.56,451.49 478.01,450.75 480.46,450 482.92,449.25 485.37,448.5 487.82,447.73 490.27,446.96 492.72,446.19 495.17,445.42 497.62,444.65 500.08,443.87 502.53,443.1 504.98,442.33 507.43,441.56 509.88,440.78 512.34,440.01 514.79,439.24 517.24,438.47 519.69,437.69 522.14,436.92 524.59,436.15 527.04,435.37 529.5,434.6 531.95,433.83 534.4,433.05 536.85,432.28 539.3,431.5 541.75,430.72 544.21,429.95 546.66,429.17 549.11,428.39 551.56,427.61 554.01,426.84 556.47,426.06 558.92,425.28 561.37,424.5 563.82,423.72 566.27,422.93 568.72,422.14 571.17,421.35 573.63,420.55 576.08,419.75 578.53,418.95 580.98,418.14 583.43,417.33 585.88,416.52 588.34,415.7 590.79,414.89 593.24,414.08 595.69,413.27 598.14,412.46 600.6,411.65 603.05,410.8 605.5,409.92 607.95,409.01 610.4,408.06 612.85,407.09 615.31,406.08 617.76,405.04 620.21,403.97 622.66,402.87 625.11,401.77 627.56,400.67 630.01,399.57 632.47,398.47 634.92,397.37 637.37,396.26 639.82,395.15 642.27,394.03 644.73,392.92 647.18,391.8 649.63,390.68 652.08,389.55 654.53,388.42 656.98,387.3 659.43,386.17 661.89,385.05 664.34,383.92 666.79,382.8 669.24,381.67 671.69,380.55 674.14,379.49 676.6,378.44 679.05,377.39 681.5,376.34 681.5,386.84 679.05,387.75 676.6,388.66 674.14,389.57 671.69,390.48 669.24,391.32 666.79,392.17 664.34,393.01 661.89,393.86 659.43,394.7 656.98,395.55 654.53,396.39 652.08,397.24 649.63,398.08 647.18,398.92 644.73,399.75 642.27,400.59 639.82,401.41 637.37,402.23 634.92,403.05 632.47,403.86 630.01,404.67 627.56,405.48 625.11,406.28 622.66,407.09 620.21,407.89 617.76,408.72 615.31,409.58 612.85,410.47 610.4,411.38 607.95,412.33 605.5,413.3 603.05,414.31 600.6,415.34 598.14,416.41 595.69,417.47 593.24,418.54 590.79,419.61 588.34,420.68 585.88,421.75 583.43,422.82 580.98,423.88 578.53,424.95 576.08,426.03 573.63,427.1 571.17,428.19 568.72,429.27 566.27,430.36 563.82,431.45 561.37,432.55 558.92,433.65 556.47,434.75 554.01,435.85 551.56,436.96 549.11,438.06 546.66,439.16 544.21,440.26 541.75,441.38 539.3,442.53 536.85,443.71 534.4,444.92 531.95,446.16 529.5,447.44 527.04,448.75 524.59,450.09 522.14,451.46 519.69,452.85 517.24,454.25 514.79,455.64 512.34,457.03 509.88,458.42 507.43,459.81 504.98,461.18 502.53,462.53 500.08,463.85 497.62,465.14 495.17,466.4 492.72,467.64 490.27,468.85 487.82,470.03 485.37,471.19 482.92,472.34 480.46,473.49 478.01,474.64 475.56,475.78 473.11,476.93 470.66,478.08 468.21,479.23 465.75,480.38 463.3,481.53 460.85,482.68 458.4,483.83 455.95,484.98 453.5,486.13 451.04,487.28 448.59,488.43 446.14,489.58 443.69,490.72 441.24,491.87 438.79,493.01 436.33,494.15 433.88,495.29 431.43,496.42 428.98,497.56 426.53,498.69 424.07,499.82 421.62,500.96 419.17,502.09 416.72,503.22 414.27,504.36 411.82,505.49 409.37,506.62 406.91,507.75 404.46,508.89 402.01,510.02 399.56,511.15 397.11,512.29 394.66,513.34 392.2,514.4 389.75,515.45 387.3,516.51" fill="#bfbfbf"/><line x1="562.5" y1="488.5" x2="620.8" y2="488.5" stroke="#1f6e2c" stroke-width="1.7" stroke-dasharray="1.7 1.8"/><line x1="387.3" y1="498.71" x2="681.5" y2="381.57" stroke="#2b3aa6" stroke-width="1.65"/><line x1="373.18" y1="499.47" x2="695.62" y2="376.03" stroke="#ee8149" stroke-width="1.25" stroke-dasharray="3.1 2.3"/><circle cx="577.9" cy="414.3" r="1.45" fill="#111"/><circle cx="587.5" cy="423.6" r="1.45" fill="#111"/><circle cx="588.5" cy="409.2" r="1.45" fill="#111"/><circle cx="588.7" cy="411.4" r="1.45" fill="#111"/><circle cx="593.4" cy="411.4" r="1.45" fill="#111"/><circle cx="594.3" cy="413.5" r="1.45" fill="#111"/><circle cx="597.1" cy="414.9" r="1.45" fill="#111"/><circle cx="598" cy="417" r="1.45" fill="#111"/><circle cx="599.4" cy="415.8" r="1.45" fill="#111"/><circle cx="600.6" cy="410.2" r="1.45" fill="#111"/><circle cx="602.1" cy="407.6" r="1.45" fill="#111"/><circle cx="603.3" cy="409.6" r="1.45" fill="#111"/><circle cx="605" cy="410.8" r="1.45" fill="#111"/><circle cx="606.8" cy="410.2" r="1.45" fill="#111"/><circle cx="608.5" cy="409" r="1.45" fill="#111"/><circle cx="609.7" cy="413.7" r="1.45" fill="#111"/><circle cx="610.9" cy="412.5" r="1.45" fill="#111"/><circle cx="611.5" cy="407.6" r="1.45" fill="#111"/><circle cx="612.6" cy="406.1" r="1.45" fill="#111"/><circle cx="614.4" cy="403.8" r="1.45" fill="#111"/><circle cx="615" cy="407.8" r="1.45" fill="#111"/><circle cx="616.1" cy="409.6" r="1.45" fill="#111"/><circle cx="617.9" cy="411.1" r="1.45" fill="#111"/><circle cx="619.6" cy="401.4" r="1.45" fill="#111"/><circle cx="620.8" cy="403.4" r="1.45" fill="#111"/><circle cx="622.3" cy="404.9" r="1.45" fill="#111"/><circle cx="624" cy="406.1" r="1.45" fill="#111"/><circle cx="624.9" cy="403.4" r="1.45" fill="#111"/></g>
<rect x="389.3" y="382.2" width="290.2" height="111.1" fill="none" stroke="#4d4d4d" stroke-width="1"/>
<text x="400.05" y="515.9" text-anchor="middle" font-size="8.6">0</text>
<text x="453.79" y="515.9" text-anchor="middle" font-size="8.6">8</text>
<text x="507.53" y="515.9" text-anchor="middle" font-size="8.6">16</text>
<text x="561.27" y="515.9" text-anchor="middle" font-size="8.6">24</text>
<text x="615.01" y="515.9" text-anchor="middle" font-size="8.6">32</text>
<text x="668.75" y="515.9" text-anchor="middle" font-size="8.6">40</text>
<text transform="translate(374.4 489.19) rotate(-90)" text-anchor="middle" font-size="8.6">0</text>
<text transform="translate(374.4 437.75) rotate(-90)" text-anchor="middle" font-size="8.6">20</text>
<text transform="translate(374.4 386.31) rotate(-90)" text-anchor="middle" font-size="8.6">40</text>
<path d="M400.05 493.8v6M453.79 493.8v6M507.53 493.8v6M561.27 493.8v6M615.01 493.8v6M668.75 493.8v6M388.8 489.19h-6M388.8 437.75h-6M388.8 386.31h-6" stroke="#4d4d4d" stroke-width="1" fill="none"/>
<text x="507.6" y="526.6" font-size="8.8">Venous Blood</text>
<text transform="translate(361.8 437.25) rotate(-90)" text-anchor="middle" font-size="8.8">Capillary Blood</text>
<text x="414.9" y="376.9" font-size="7.8" textLength="242.3" lengthAdjust="spacing" style="white-space:pre"><tspan font-weight="bold">MCH:</tspan> Intercept =  -1.73 (-8.44 to 6.28); Slope = 1.04 (0.79 to 1.25)</text>
<line x1="395.6" y1="390.1" x2="410.9" y2="390.1" stroke="#2b3aa6" stroke-width="1.5"/>
<text x="417.7" y="394" font-size="9.1" textLength="52.7" lengthAdjust="spacingAndGlyphs" style="white-space:pre">-1.73 + 1.04 *</text>
<text x="472.9" y="394" font-size="8.3">Venous Blood</text>
<text x="569.5" y="479.2" font-size="10.6" textLength="89.6" lengthAdjust="spacingAndGlyphs">Pearson's r = 0.814</text>
<text x="347.2" y="387" font-size="16.6" font-weight="bold" fill="#2a2a2a">F</text>
<clipPath id="c6"><rect x="44" y="556.2" width="294.4" height="113.1"/></clipPath>
<g clip-path="url(#c6)"><polygon points="42,671.76 44.49,670.69 46.97,669.62 49.46,668.55 51.95,667.48 54.43,666.41 56.92,665.34 59.41,664.27 61.89,663.2 64.38,662.13 66.87,661.06 69.35,659.99 71.84,658.92 74.33,657.85 76.81,656.78 79.3,655.71 81.79,654.64 84.27,653.57 86.76,652.5 89.25,651.43 91.73,650.36 94.22,649.29 96.71,648.22 99.19,647.15 101.68,646.08 104.17,645.01 106.65,643.94 109.14,642.87 111.63,641.8 114.11,640.73 116.6,639.66 119.09,638.59 121.57,637.52 124.06,636.45 126.55,635.37 129.03,634.28 131.52,633.2 134.01,632.1 136.49,631.01 138.98,629.91 141.47,628.81 143.95,627.7 146.44,626.6 148.93,625.49 151.41,624.39 153.9,623.29 156.39,622.18 158.87,621.08 161.36,619.97 163.85,618.87 166.33,617.76 168.82,616.66 171.31,615.56 173.79,614.45 176.28,613.35 178.77,612.24 181.25,611.14 183.74,610.03 186.23,608.93 188.71,607.82 191.2,606.71 193.69,605.6 196.17,604.49 198.66,603.38 201.15,602.27 203.63,601.16 206.12,600.04 208.61,598.93 211.09,597.82 213.58,596.71 216.07,595.6 218.55,594.49 221.04,593.37 223.53,592.24 226.01,591.09 228.5,589.92 230.99,588.74 233.47,587.54 235.96,586.33 238.45,585.09 240.93,583.85 243.42,582.58 245.91,581.32 248.39,580.05 250.88,578.77 253.37,577.49 255.85,576.21 258.34,574.92 260.83,573.62 263.31,572.33 265.8,571.03 268.29,569.74 270.77,568.44 273.26,567.14 275.75,565.85 278.23,564.55 280.72,563.26 283.21,561.96 285.69,560.66 288.18,559.37 290.67,558.07 293.15,556.78 295.64,555.48 298.13,554.18 300.61,552.89 303.1,551.59 305.59,550.3 308.07,549 310.56,547.7 313.05,546.41 315.53,545.11 318.02,543.82 320.51,542.52 322.99,541.22 325.48,539.93 327.97,538.63 330.45,537.34 332.94,536.15 335.43,534.97 337.91,533.79 340.4,532.6 340.4,555.89 337.91,556.87 335.43,557.85 332.94,558.84 330.45,559.82 327.97,560.71 325.48,561.61 322.99,562.5 320.51,563.4 318.02,564.29 315.53,565.19 313.05,566.08 310.56,566.98 308.07,567.87 305.59,568.77 303.1,569.66 300.61,570.56 298.13,571.45 295.64,572.34 293.15,573.24 290.67,574.13 288.18,575.03 285.69,575.92 283.21,576.82 280.72,577.71 278.23,578.61 275.75,579.5 273.26,580.4 270.77,581.29 268.29,582.19 265.8,583.08 263.31,583.98 260.83,584.87 258.34,585.77 255.85,586.68 253.37,587.6 250.88,588.53 248.39,589.47 245.91,590.42 243.42,591.38 240.93,592.35 238.45,593.33 235.96,594.3 233.47,595.27 230.99,596.23 228.5,597.18 226.01,598.12 223.53,599.06 221.04,599.99 218.55,600.92 216.07,601.84 213.58,602.76 211.09,603.68 208.61,604.6 206.12,605.53 203.63,606.45 201.15,607.37 198.66,608.29 196.17,609.22 193.69,610.16 191.2,611.11 188.71,612.07 186.23,613.04 183.74,614.02 181.25,615.01 178.77,616.01 176.28,617.02 173.79,618.04 171.31,619.05 168.82,620.07 166.33,621.08 163.85,622.09 161.36,623.11 158.87,624.12 156.39,625.14 153.9,626.15 151.41,627.17 148.93,628.18 146.44,629.19 143.95,630.21 141.47,631.22 138.98,632.24 136.49,633.26 134.01,634.29 131.52,635.33 129.03,636.37 126.55,637.42 124.06,638.47 121.57,639.53 119.09,640.59 116.6,641.66 114.11,642.73 111.63,643.8 109.14,644.87 106.65,645.94 104.17,647.01 101.68,648.08 99.19,649.15 96.71,650.22 94.22,651.29 91.73,652.36 89.25,653.43 86.76,654.5 84.27,655.57 81.79,656.64 79.3,657.71 76.81,658.78 74.33,659.85 71.84,660.92 69.35,661.99 66.87,663.06 64.38,664.13 61.89,665.2 59.41,666.27 56.92,667.34 54.43,668.41 51.95,669.48 49.46,670.55 46.97,671.62 44.49,672.69 42,673.76" fill="#bfbfbf"/><line x1="147.7" y1="664.4" x2="328.2" y2="664.4" stroke="#1f6e2c" stroke-width="1.7" stroke-dasharray="1.7 1.8"/><line x1="42" y1="672.76" x2="340.4" y2="544.37" stroke="#2b3aa6" stroke-width="1.65"/><line x1="27.64" y1="675.58" x2="354.76" y2="549.92" stroke="#ee8149" stroke-width="1.25" stroke-dasharray="3.1 2.3"/><circle cx="71.7" cy="660.1" r="1.45" fill="#111"/><circle cx="74" cy="652.6" r="1.45" fill="#111"/><circle cx="79.9" cy="654.2" r="1.45" fill="#111"/><circle cx="84.5" cy="649.1" r="1.45" fill="#111"/><circle cx="88" cy="655.4" r="1.45" fill="#111"/><circle cx="88.5" cy="651.9" r="1.45" fill="#111"/><circle cx="96.2" cy="648.4" r="1.45" fill="#111"/><circle cx="97.4" cy="649.6" r="1.45" fill="#111"/><circle cx="99.7" cy="640.2" r="1.45" fill="#111"/><circle cx="99.7" cy="644.9" r="1.45" fill="#111"/><circle cx="100.2" cy="655.4" r="1.45" fill="#111"/><circle cx="100.9" cy="647.2" r="1.45" fill="#111"/><circle cx="104.8" cy="648.4" r="1.45" fill="#111"/><circle cx="107.9" cy="641.9" r="1.45" fill="#111"/><circle cx="109.1" cy="641.9" r="1.45" fill="#111"/><circle cx="112.6" cy="644.2" r="1.45" fill="#111"/><circle cx="113.3" cy="643.3" r="1.45" fill="#111"/><circle cx="114.9" cy="640.2" r="1.45" fill="#111"/><circle cx="116.5" cy="633.2" r="1.45" fill="#111"/><circle cx="118.4" cy="637.9" r="1.45" fill="#111"/><circle cx="121.9" cy="640.2" r="1.45" fill="#111"/><circle cx="123.5" cy="624.6" r="1.45" fill="#111"/><circle cx="124.7" cy="645.4" r="1.45" fill="#111"/><circle cx="125.9" cy="640.2" r="1.45" fill="#111"/><circle cx="127.3" cy="632.7" r="1.45" fill="#111"/><circle cx="130.8" cy="637.9" r="1.45" fill="#111"/><circle cx="134.7" cy="627.8" r="1.45" fill="#111"/><circle cx="137.6" cy="628.5" r="1.45" fill="#111"/><circle cx="144.6" cy="623.9" r="1.45" fill="#111"/><circle cx="148.8" cy="628.5" r="1.45" fill="#111"/><circle cx="148.8" cy="626.2" r="1.45" fill="#111"/><circle cx="160.9" cy="623.9" r="1.45" fill="#111"/><circle cx="162.8" cy="630.4" r="1.45" fill="#111"/><circle cx="164.4" cy="618" r="1.45" fill="#111"/><circle cx="185" cy="609.2" r="1.45" fill="#111"/><circle cx="185" cy="623.2" r="1.45" fill="#111"/><circle cx="187.8" cy="618" r="1.45" fill="#111"/><circle cx="204.8" cy="618" r="1.45" fill="#111"/><circle cx="209.8" cy="598.3" r="1.45" fill="#111"/><circle cx="213.9" cy="591.8" r="1.45" fill="#111"/><circle cx="213.9" cy="597.9" r="1.45" fill="#111"/><circle cx="212.3" cy="604" r="1.45" fill="#111"/><circle cx="272.6" cy="570.3" r="1.45" fill="#111"/><circle cx="284.8" cy="563.6" r="1.45" fill="#111"/><circle cx="301.6" cy="574.4" r="1.45" fill="#111"/></g>
<rect x="44" y="556.2" width="294.4" height="113.1" fill="none" stroke="#4d4d4d" stroke-width="1"/>
<text x="54.9" y="691.9" text-anchor="middle" font-size="8.6">0</text>
<text x="109.42" y="691.9" text-anchor="middle" font-size="8.6">3000</text>
<text x="163.94" y="691.9" text-anchor="middle" font-size="8.6">6000</text>
<text x="218.46" y="691.9" text-anchor="middle" font-size="8.6">9000</text>
<text x="272.98" y="691.9" text-anchor="middle" font-size="8.6">12000</text>
<text x="327.5" y="691.9" text-anchor="middle" font-size="8.6">15000</text>
<text transform="translate(29.1 665.11) rotate(-90)" text-anchor="middle" font-size="8.6">0</text>
<text transform="translate(29.1 612.75) rotate(-90)" text-anchor="middle" font-size="8.6">7500</text>
<text transform="translate(29.1 560.39) rotate(-90)" text-anchor="middle" font-size="8.6">15000</text>
<path d="M54.9 669.8v6M109.42 669.8v6M163.94 669.8v6M218.46 669.8v6M272.98 669.8v6M327.5 669.8v6M43.5 665.11h-6M43.5 612.75h-6M43.5 560.39h-6" stroke="#4d4d4d" stroke-width="1" fill="none"/>
<text x="164" y="702.3" font-size="8.8">Venous Blood</text>
<text transform="translate(15.2 613.15) rotate(-90)" text-anchor="middle" font-size="8.8">Capillary Blood</text>
<text x="64.2" y="551.8" font-size="7.8" textLength="251.8" lengthAdjust="spacing" style="white-space:pre"><tspan font-weight="bold">WBC:</tspan> Intercept = -300 (-627.03 to 52.14); Slope = 1.11 (1.00 to 1.19)</text>
<line x1="52.8" y1="564.5" x2="68.1" y2="564.5" stroke="#2b3aa6" stroke-width="1.5"/>
<text x="74.9" y="568.4" font-size="9.1" textLength="62.6" lengthAdjust="spacingAndGlyphs" style="white-space:pre">-300.79 + 1.12 *</text>
<text x="139.5" y="568.4" font-size="8.3">Venous Blood</text>
<text x="226.6" y="654" font-size="10.6" textLength="89.6" lengthAdjust="spacingAndGlyphs">Pearson's r = 0.973</text>
<text x="1.4" y="559.2" font-size="16.6" font-weight="bold" fill="#2a2a2a">G</text>
<clipPath id="c7"><rect x="388.8" y="558.3" width="290.7" height="111"/></clipPath>
<g clip-path="url(#c7)"><polygon points="386.8,668.84 389.26,667.85 391.71,666.87 394.17,665.89 396.62,664.9 399.08,663.91 401.54,662.92 403.99,661.93 406.45,660.93 408.9,659.94 411.36,658.95 413.81,657.96 416.27,656.96 418.73,655.97 421.18,654.98 423.64,653.99 426.09,652.99 428.55,652 431,651.01 433.46,650.02 435.92,649.03 438.37,648.03 440.83,647.04 443.28,646.05 445.74,645.06 448.2,644.06 450.65,643.07 453.11,642.07 455.56,641.06 458.02,640.05 460.48,639.03 462.93,638 465.39,636.97 467.84,635.92 470.3,634.88 472.75,633.82 475.21,632.77 477.67,631.71 480.12,630.66 482.58,629.61 485.03,628.55 487.49,627.5 489.94,626.44 492.4,625.39 494.86,624.34 497.31,623.28 499.77,622.23 502.22,621.17 504.68,620.11 507.14,619.05 509.59,617.98 512.05,616.9 514.5,615.83 516.96,614.75 519.41,613.66 521.87,612.57 524.33,611.48 526.78,610.39 529.24,609.3 531.69,608.21 534.15,607.12 536.61,606.03 539.06,604.94 541.52,603.86 543.97,602.77 546.43,601.68 548.88,600.59 551.34,599.5 553.8,598.41 556.25,597.32 558.71,596.23 561.16,595.14 563.62,594.05 566.08,592.96 568.53,591.87 570.99,590.78 573.44,589.69 575.9,588.6 578.36,587.51 580.81,586.41 583.27,585.31 585.72,584.21 588.18,583.11 590.63,582.01 593.09,580.9 595.55,579.77 598,578.64 600.46,577.5 602.91,576.36 605.37,575.2 607.83,574.04 610.28,572.87 612.74,571.69 615.19,570.51 617.65,569.33 620.1,568.16 622.56,566.98 625.02,565.8 627.47,564.62 629.93,563.45 632.38,562.27 634.84,561.1 637.29,559.93 639.75,558.77 642.21,557.61 644.66,556.46 647.12,555.31 649.57,554.16 652.03,553.02 654.49,551.87 656.94,550.73 659.4,549.59 661.85,548.44 664.31,547.3 666.76,546.16 669.22,545.02 671.68,543.87 674.13,542.81 676.59,541.75 679.04,540.69 681.5,539.64 681.5,565.56 679.04,566.45 676.59,567.35 674.13,568.25 671.68,569.15 669.22,569.97 666.76,570.79 664.31,571.61 661.85,572.43 659.4,573.25 656.94,574.07 654.49,574.89 652.03,575.71 649.57,576.53 647.12,577.35 644.66,578.18 642.21,579 639.75,579.82 637.29,580.64 634.84,581.46 632.38,582.28 629.93,583.1 627.47,583.92 625.02,584.74 622.56,585.56 620.1,586.38 617.65,587.2 615.19,588.02 612.74,588.84 610.28,589.66 607.83,590.49 605.37,591.31 602.91,592.13 600.46,592.96 598,593.78 595.55,594.61 593.09,595.44 590.63,596.27 588.18,597.11 585.72,597.96 583.27,598.82 580.81,599.68 578.36,600.54 575.9,601.41 573.44,602.29 570.99,603.18 568.53,604.06 566.08,604.94 563.62,605.83 561.16,606.71 558.71,607.6 556.25,608.48 553.8,609.37 551.34,610.25 548.88,611.14 546.43,612.02 543.97,612.9 541.52,613.79 539.06,614.67 536.61,615.56 534.15,616.44 531.69,617.33 529.24,618.21 526.78,619.1 524.33,619.98 521.87,620.86 519.41,621.75 516.96,622.63 514.5,623.52 512.05,624.41 509.59,625.29 507.14,626.18 504.68,627.07 502.22,627.96 499.77,628.85 497.31,629.75 494.86,630.64 492.4,631.53 489.94,632.42 487.49,633.31 485.03,634.2 482.58,635.1 480.12,635.99 477.67,636.88 475.21,637.77 472.75,638.66 470.3,639.56 467.84,640.45 465.39,641.36 462.93,642.27 460.48,643.19 458.02,644.12 455.56,645.05 453.11,645.99 450.65,646.94 448.2,647.9 445.74,648.86 443.28,649.82 440.83,650.77 438.37,651.73 435.92,652.69 433.46,653.65 431,654.61 428.55,655.57 426.09,656.52 423.64,657.48 421.18,658.44 418.73,659.4 416.27,660.36 413.81,661.31 411.36,662.27 408.9,663.23 406.45,664.19 403.99,665.15 401.54,666.11 399.08,667.06 396.62,668.02 394.17,668.99 391.71,669.96 389.26,670.92 386.8,671.89" fill="#bfbfbf"/><line x1="426.8" y1="664.2" x2="614.7" y2="664.2" stroke="#1f6e2c" stroke-width="1.7" stroke-dasharray="1.7 1.8"/><line x1="386.8" y1="670.36" x2="681.5" y2="553.33" stroke="#2b3aa6" stroke-width="1.65"/><line x1="372.65" y1="675.47" x2="695.65" y2="552.13" stroke="#ee8149" stroke-width="1.25" stroke-dasharray="3.1 2.3"/><circle cx="399.2" cy="663.8" r="1.45" fill="#111"/><circle cx="401.3" cy="663.1" r="1.45" fill="#111"/><circle cx="406" cy="660.7" r="1.45" fill="#111"/><circle cx="407.4" cy="659" r="1.45" fill="#111"/><circle cx="409.5" cy="658.4" r="1.45" fill="#111"/><circle cx="413.5" cy="658.6" r="1.45" fill="#111"/><circle cx="418.2" cy="657.6" r="1.45" fill="#111"/><circle cx="420.3" cy="659.5" r="1.45" fill="#111"/><circle cx="422.3" cy="653.3" r="1.45" fill="#111"/><circle cx="429.9" cy="648.8" r="1.45" fill="#111"/><circle cx="429.9" cy="654.3" r="1.45" fill="#111"/><circle cx="431.3" cy="653.3" r="1.45" fill="#111"/><circle cx="432.6" cy="645.8" r="1.45" fill="#111"/><circle cx="433" cy="653.9" r="1.45" fill="#111"/><circle cx="435.4" cy="651.5" r="1.45" fill="#111"/><circle cx="437" cy="648.8" r="1.45" fill="#111"/><circle cx="441.5" cy="645.2" r="1.45" fill="#111"/><circle cx="443.6" cy="648.4" r="1.45" fill="#111"/><circle cx="447.9" cy="636" r="1.45" fill="#111"/><circle cx="448.5" cy="638.6" r="1.45" fill="#111"/><circle cx="449.3" cy="643.7" r="1.45" fill="#111"/><circle cx="449.3" cy="650.5" r="1.45" fill="#111"/><circle cx="450.3" cy="637.6" r="1.45" fill="#111"/><circle cx="451.4" cy="648.4" r="1.45" fill="#111"/><circle cx="453" cy="638.6" r="1.45" fill="#111"/><circle cx="455.4" cy="640.2" r="1.45" fill="#111"/><circle cx="463.2" cy="639" r="1.45" fill="#111"/><circle cx="466.7" cy="633.1" r="1.45" fill="#111"/><circle cx="475.5" cy="629.4" r="1.45" fill="#111"/><circle cx="484.5" cy="636.6" r="1.45" fill="#111"/><circle cx="486.5" cy="633.9" r="1.45" fill="#111"/><circle cx="496.9" cy="628" r="1.45" fill="#111"/><circle cx="504.9" cy="636.2" r="1.45" fill="#111"/><circle cx="518.2" cy="628" r="1.45" fill="#111"/><circle cx="531.4" cy="618" r="1.45" fill="#111"/><circle cx="533.5" cy="622.2" r="1.45" fill="#111"/><circle cx="550.7" cy="598.1" r="1.45" fill="#111"/><circle cx="570.9" cy="592.2" r="1.45" fill="#111"/><circle cx="573.9" cy="592.2" r="1.45" fill="#111"/><circle cx="584.3" cy="583.7" r="1.45" fill="#111"/><circle cx="592.8" cy="611.3" r="1.45" fill="#111"/><circle cx="605.6" cy="588.4" r="1.45" fill="#111"/><circle cx="619.3" cy="564.3" r="1.45" fill="#111"/></g>
<rect x="388.8" y="558.3" width="290.7" height="111" fill="none" stroke="#4d4d4d" stroke-width="1"/>
<text x="399.57" y="691.9" text-anchor="middle" font-size="8.6">0</text>
<text x="453.4" y="691.9" text-anchor="middle" font-size="8.6">2000</text>
<text x="507.23" y="691.9" text-anchor="middle" font-size="8.6">4000</text>
<text x="561.07" y="691.9" text-anchor="middle" font-size="8.6">6000</text>
<text x="614.9" y="691.9" text-anchor="middle" font-size="8.6">8000</text>
<text x="668.73" y="691.9" text-anchor="middle" font-size="8.6">10000</text>
<text transform="translate(373.9 665.19) rotate(-90)" text-anchor="middle" font-size="8.6">0</text>
<text transform="translate(373.9 613.8) rotate(-90)" text-anchor="middle" font-size="8.6">5000</text>
<text transform="translate(373.9 562.41) rotate(-90)" text-anchor="middle" font-size="8.6">10000</text>
<path d="M399.57 669.8v6M453.4 669.8v6M507.23 669.8v6M561.07 669.8v6M614.9 669.8v6M668.73 669.8v6M388.3 665.19h-6M388.3 613.8h-6M388.3 562.41h-6" stroke="#4d4d4d" stroke-width="1" fill="none"/>
<text x="507.3" y="703.3" font-size="8.8">Venous Blood</text>
<text transform="translate(361.9 614.2) rotate(-90)" text-anchor="middle" font-size="8.8">Capillary Blood</text>
<text x="401.8" y="553.8" font-size="7.8" textLength="260.2" lengthAdjust="spacing" style="white-space:pre"><tspan font-weight="bold">NEU:</tspan> Intercept = -10.15 (-127.84 to 132.42); Slope = 1.04 (0.92 to 1.14)</text>
<line x1="394.6" y1="566.1" x2="409.9" y2="566.1" stroke="#2b3aa6" stroke-width="1.5"/>
<text x="417.2" y="570" font-size="9.1" textLength="57.7" lengthAdjust="spacingAndGlyphs" style="white-space:pre">-10.15 + 1.04 *</text>
<text x="476.9" y="570" font-size="8.3">Venous Blood</text>
<text x="569.5" y="653.2" font-size="10.6" textLength="89.6" lengthAdjust="spacingAndGlyphs">Pearson's r = 0.966</text>
<text x="344.4" y="559.6" font-size="16.6" font-weight="bold" fill="#2a2a2a">H</text>
<clipPath id="c8"><rect x="43.4" y="729.3" width="294.2" height="113.1"/></clipPath>
<g clip-path="url(#c8)"><polygon points="41.4,842.2 43.88,841.27 46.37,840.33 48.85,839.39 51.34,838.45 53.83,837.5 56.31,836.56 58.8,835.61 61.28,834.66 63.77,833.71 66.25,832.76 68.73,831.81 71.22,830.87 73.7,829.92 76.19,828.97 78.68,828.02 81.16,827.07 83.65,826.12 86.13,825.17 88.62,824.23 91.1,823.28 93.59,822.32 96.07,821.36 98.56,820.39 101.04,819.41 103.53,818.43 106.01,817.45 108.5,816.46 110.98,815.46 113.47,814.46 115.95,813.46 118.44,812.46 120.92,811.46 123.41,810.45 125.89,809.45 128.38,808.45 130.86,807.45 133.34,806.45 135.83,805.45 138.31,804.45 140.8,803.45 143.29,802.45 145.77,801.45 148.26,800.45 150.74,799.45 153.23,798.44 155.71,797.44 158.2,796.44 160.68,795.44 163.17,794.44 165.65,793.43 168.14,792.43 170.62,791.42 173.11,790.41 175.59,789.41 178.08,788.4 180.56,787.39 183.05,786.38 185.53,785.37 188.02,784.36 190.5,783.35 192.99,782.33 195.47,781.31 197.96,780.28 200.44,779.24 202.93,778.2 205.41,777.15 207.9,776.09 210.38,775.03 212.87,773.96 215.35,772.89 217.84,771.82 220.32,770.75 222.81,769.68 225.29,768.62 227.78,767.55 230.26,766.48 232.75,765.41 235.23,764.34 237.72,763.27 240.2,762.2 242.69,761.13 245.17,760.07 247.66,759 250.14,757.93 252.63,756.86 255.11,755.79 257.6,754.72 260.08,753.65 262.56,752.6 265.05,751.56 267.54,750.54 270.02,749.53 272.51,748.53 274.99,747.56 277.48,746.59 279.96,745.64 282.45,744.71 284.93,743.77 287.42,742.84 289.9,741.9 292.39,740.94 294.87,739.95 297.36,738.92 299.84,737.87 302.32,736.79 304.81,735.67 307.3,734.53 309.78,733.37 312.27,732.18 314.75,730.99 317.24,729.81 319.72,728.64 322.21,727.47 324.69,726.3 327.18,725.15 329.66,724 332.15,722.96 334.63,721.92 337.12,720.88 339.6,719.84 339.6,740.05 337.12,740.91 334.63,741.76 332.15,742.62 329.66,743.48 327.18,744.27 324.69,745.06 322.21,745.85 319.72,746.64 317.24,747.43 314.75,748.22 312.27,749.01 309.78,749.8 307.3,750.59 304.81,751.4 302.32,752.21 299.84,753.02 297.36,753.85 294.87,754.68 292.39,755.52 289.9,756.36 287.42,757.22 284.93,758.07 282.45,758.92 279.96,759.77 277.48,760.63 274.99,761.5 272.51,762.38 270.02,763.26 267.54,764.15 265.05,765.05 262.56,765.96 260.08,766.87 257.6,767.8 255.11,768.72 252.63,769.64 250.14,770.57 247.66,771.49 245.17,772.41 242.69,773.33 240.2,774.26 237.72,775.18 235.23,776.1 232.75,777.03 230.26,777.95 227.78,778.87 225.29,779.8 222.81,780.72 220.32,781.64 217.84,782.57 215.35,783.49 212.87,784.41 210.38,785.34 207.9,786.24 205.41,787.12 202.93,787.98 200.44,788.82 197.96,789.64 195.47,790.43 192.99,791.2 190.5,791.95 188.02,792.68 185.53,793.4 183.05,794.13 180.56,794.85 178.08,795.57 175.59,796.31 173.11,797.06 170.62,797.83 168.14,798.62 165.65,799.43 163.17,800.26 160.68,801.1 158.2,801.97 155.71,802.86 153.23,803.75 150.74,804.64 148.26,805.54 145.77,806.43 143.29,807.32 140.8,808.21 138.31,809.11 135.83,810 133.34,810.89 130.86,811.79 128.38,812.68 125.89,813.57 123.41,814.47 120.92,815.36 118.44,816.25 115.95,817.15 113.47,818.04 110.98,818.93 108.5,819.83 106.01,820.72 103.53,821.62 101.04,822.52 98.56,823.42 96.07,824.32 93.59,825.22 91.1,826.12 88.62,827.03 86.13,827.93 83.65,828.84 81.16,829.74 78.68,830.65 76.19,831.55 73.7,832.46 71.22,833.36 68.73,834.27 66.25,835.17 63.77,836.08 61.28,836.98 58.8,837.89 56.31,838.79 53.83,839.69 51.34,840.6 48.85,841.52 46.37,842.43 43.88,843.35 41.4,844.26" fill="#bfbfbf"/><line x1="101.5" y1="836.7" x2="328.5" y2="836.7" stroke="#1f6e2c" stroke-width="1.7" stroke-dasharray="1.7 1.8"/><line x1="41.4" y1="843.23" x2="339.6" y2="732.03" stroke="#2b3aa6" stroke-width="1.65"/><line x1="27.06" y1="848.68" x2="353.94" y2="723.02" stroke="#ee8149" stroke-width="1.25" stroke-dasharray="3.1 2.3"/><circle cx="52.3" cy="836.9" r="1.45" fill="#111"/><circle cx="71" cy="832.9" r="1.45" fill="#111"/><circle cx="72.2" cy="831.5" r="1.45" fill="#111"/><circle cx="73.4" cy="826.4" r="1.45" fill="#111"/><circle cx="74.5" cy="832.2" r="1.45" fill="#111"/><circle cx="79.7" cy="824.5" r="1.45" fill="#111"/><circle cx="86.2" cy="813.5" r="1.45" fill="#111"/><circle cx="90.9" cy="820.5" r="1.45" fill="#111"/><circle cx="92" cy="821.3" r="1.45" fill="#111"/><circle cx="92.5" cy="824.5" r="1.45" fill="#111"/><circle cx="97.9" cy="824.1" r="1.45" fill="#111"/><circle cx="101.9" cy="814.7" r="1.45" fill="#111"/><circle cx="102.6" cy="813.5" r="1.45" fill="#111"/><circle cx="102.6" cy="824.1" r="1.45" fill="#111"/><circle cx="106.1" cy="817" r="1.45" fill="#111"/><circle cx="107.2" cy="820.5" r="1.45" fill="#111"/><circle cx="108.4" cy="802.6" r="1.45" fill="#111"/><circle cx="108.4" cy="813.5" r="1.45" fill="#111"/><circle cx="109.6" cy="819.8" r="1.45" fill="#111"/><circle cx="117.3" cy="811.2" r="1.45" fill="#111"/><circle cx="118.2" cy="807.7" r="1.45" fill="#111"/><circle cx="118.9" cy="816.6" r="1.45" fill="#111"/><circle cx="121.9" cy="815.2" r="1.45" fill="#111"/><circle cx="125.2" cy="798.4" r="1.45" fill="#111"/><circle cx="129.9" cy="813.5" r="1.45" fill="#111"/><circle cx="131.3" cy="803.5" r="1.45" fill="#111"/><circle cx="134.1" cy="811.2" r="1.45" fill="#111"/><circle cx="134.6" cy="813.5" r="1.45" fill="#111"/><circle cx="136.9" cy="808.9" r="1.45" fill="#111"/><circle cx="145.3" cy="811.2" r="1.45" fill="#111"/><circle cx="150.4" cy="796" r="1.45" fill="#111"/><circle cx="150.9" cy="797.9" r="1.45" fill="#111"/><circle cx="150.9" cy="804.9" r="1.45" fill="#111"/><circle cx="153.9" cy="810.5" r="1.45" fill="#111"/><circle cx="157" cy="801.9" r="1.45" fill="#111"/><circle cx="158.6" cy="794.2" r="1.45" fill="#111"/><circle cx="166.8" cy="790.9" r="1.45" fill="#111"/><circle cx="180.3" cy="785.5" r="1.45" fill="#111"/><circle cx="185.5" cy="779" r="1.45" fill="#111"/><circle cx="193" cy="791.8" r="1.45" fill="#111"/><circle cx="196.7" cy="791.8" r="1.45" fill="#111"/><circle cx="287.3" cy="756" r="1.45" fill="#111"/></g>
<rect x="43.4" y="729.3" width="294.2" height="113.1" fill="none" stroke="#4d4d4d" stroke-width="1"/>
<text x="54.3" y="865" text-anchor="middle" font-size="8.6">0</text>
<text x="108.78" y="865" text-anchor="middle" font-size="8.6">1200</text>
<text x="163.26" y="865" text-anchor="middle" font-size="8.6">2400</text>
<text x="217.74" y="865" text-anchor="middle" font-size="8.6">3600</text>
<text x="272.22" y="865" text-anchor="middle" font-size="8.6">4800</text>
<text x="326.7" y="865" text-anchor="middle" font-size="8.6">6000</text>
<text transform="translate(28.5 838.21) rotate(-90)" text-anchor="middle" font-size="8.6">0</text>
<text transform="translate(28.5 785.85) rotate(-90)" text-anchor="middle" font-size="8.6">3000</text>
<text transform="translate(28.5 733.49) rotate(-90)" text-anchor="middle" font-size="8.6">6000</text>
<path d="M54.3 842.9v6M108.78 842.9v6M163.26 842.9v6M217.74 842.9v6M272.22 842.9v6M326.7 842.9v6M42.9 838.21h-6M42.9 785.85h-6M42.9 733.49h-6" stroke="#4d4d4d" stroke-width="1" fill="none"/>
<text x="163.3" y="876.1" font-size="8.8">Venous Blood</text>
<text transform="translate(15.2 778.95) rotate(-90)" text-anchor="middle" font-size="8.8">Capillary Blood</text>
<text x="55.7" y="724" font-size="7.8" textLength="235.1" lengthAdjust="spacing" style="white-space:pre"><tspan font-weight="bold">LYM:</tspan> Intercept = 0.00 (-9.04 to 0.00); Slope = 0.96 (0.93 to 0.98)</text>
<line x1="48.5" y1="736.6" x2="63.8" y2="736.6" stroke="#2b3aa6" stroke-width="1.5"/>
<text x="70.6" y="740.5" font-size="9.1" textLength="58.8" lengthAdjust="spacingAndGlyphs" style="white-space:pre">-12.20 + 0.97 *</text>
<text x="131.3" y="740.5" font-size="8.3">Venous Blood</text>
<text x="226.4" y="827.5" font-size="10.6" textLength="89.6" lengthAdjust="spacingAndGlyphs">Pearson's r = 0.949</text>
<text x="7.9" y="731.6" font-size="16.6" font-weight="bold" fill="#2a2a2a">I</text>
<clipPath id="c9"><rect x="387.3" y="730.4" width="290.3" height="112"/></clipPath>
<g clip-path="url(#c9)"><polygon points="385.3,842.76 387.75,841.79 390.2,840.81 392.66,839.83 395.11,838.85 397.56,837.87 400.01,836.89 402.47,835.9 404.92,834.92 407.37,833.94 409.82,832.96 412.28,831.97 414.73,830.99 417.18,830.01 419.63,829.03 422.09,828.04 424.54,827.06 426.99,826.08 429.44,825.1 431.9,824.12 434.35,823.13 436.8,822.15 439.25,821.17 441.71,820.18 444.16,819.18 446.61,818.17 449.06,817.16 451.52,816.13 453.97,815.09 456.42,814.05 458.88,812.99 461.33,811.93 463.78,810.86 466.23,809.79 468.69,808.72 471.14,807.65 473.59,806.57 476.04,805.49 478.5,804.41 480.95,803.33 483.4,802.25 485.85,801.16 488.31,800.08 490.76,798.99 493.21,797.9 495.66,796.82 498.12,795.73 500.57,794.64 503.02,793.55 505.47,792.46 507.93,791.35 510.38,790.23 512.83,789.1 515.28,787.95 517.74,786.8 520.19,785.63 522.64,784.46 525.09,783.27 527.55,782.08 530,780.89 532.45,779.7 534.9,778.51 537.36,777.33 539.81,776.14 542.26,774.95 544.71,773.76 547.16,772.57 549.62,771.38 552.07,770.2 554.52,769.02 556.98,767.85 559.43,766.69 561.88,765.53 564.33,764.38 566.79,763.23 569.24,762.09 571.69,760.96 574.14,759.83 576.6,758.7 579.05,757.57 581.5,756.44 583.95,755.31 586.4,754.18 588.86,753.05 591.31,751.92 593.76,750.79 596.22,749.66 598.67,748.53 601.12,747.4 603.57,746.26 606.02,745.13 608.48,744 610.93,742.87 613.38,741.74 615.84,740.61 618.29,739.48 620.74,738.35 623.19,737.22 625.64,736.09 628.1,734.96 630.55,733.83 633,732.7 635.46,731.57 637.91,730.44 640.36,729.3 642.81,728.17 645.27,727.04 647.72,725.91 650.17,724.78 652.62,723.65 655.08,722.52 657.53,721.39 659.98,720.26 662.43,719.13 664.88,718 667.34,716.87 669.79,715.74 672.24,714.68 674.7,713.63 677.15,712.58 679.6,711.53 679.6,727.82 677.15,728.79 674.7,729.76 672.24,730.74 669.79,731.71 667.34,732.68 664.88,733.65 662.43,734.62 659.98,735.59 657.53,736.56 655.08,737.54 652.62,738.51 650.17,739.48 647.72,740.45 645.27,741.42 642.81,742.39 640.36,743.36 637.91,744.33 635.46,745.31 633,746.28 630.55,747.25 628.1,748.22 625.64,749.19 623.19,750.16 620.74,751.13 618.29,752.1 615.84,753.08 613.38,754.05 610.93,755.02 608.48,755.99 606.02,756.96 603.57,757.93 601.12,758.9 598.67,759.87 596.22,760.85 593.76,761.82 591.31,762.79 588.86,763.76 586.4,764.73 583.95,765.7 581.5,766.67 579.05,767.64 576.6,768.62 574.14,769.59 571.69,770.56 569.24,771.53 566.79,772.5 564.33,773.47 561.88,774.44 559.43,775.41 556.98,776.39 554.52,777.36 552.07,778.33 549.62,779.3 547.16,780.27 544.71,781.24 542.26,782.21 539.81,783.18 537.36,784.16 534.9,785.13 532.45,786.1 530,787.07 527.55,788.04 525.09,789.01 522.64,789.98 520.19,790.95 517.74,791.93 515.28,792.9 512.83,793.87 510.38,794.84 507.93,795.81 505.47,796.78 503.02,797.75 500.57,798.72 498.12,799.7 495.66,800.67 493.21,801.64 490.76,802.61 488.31,803.58 485.85,804.55 483.4,805.52 480.95,806.49 478.5,807.47 476.04,808.44 473.59,809.41 471.14,810.38 468.69,811.35 466.23,812.32 463.78,813.29 461.33,814.26 458.88,815.24 456.42,816.21 453.97,817.18 451.52,818.15 449.06,819.12 446.61,820.09 444.16,821.06 441.71,822.03 439.25,823.01 436.8,823.98 434.35,824.95 431.9,825.92 429.44,826.89 426.99,827.86 424.54,828.83 422.09,829.8 419.63,830.78 417.18,831.75 414.73,832.72 412.28,833.69 409.82,834.66 407.37,835.63 404.92,836.6 402.47,837.57 400.01,838.54 397.56,839.52 395.11,840.49 392.66,841.46 390.2,842.43 387.75,843.41 385.3,844.38" fill="#bfbfbf"/><line x1="423" y1="836.9" x2="505.3" y2="836.9" stroke="#1f6e2c" stroke-width="1.7" stroke-dasharray="1.7 1.8"/><line x1="385.3" y1="843.57" x2="679.6" y2="726.63" stroke="#2b3aa6" stroke-width="1.65"/><line x1="371.17" y1="848.62" x2="693.73" y2="724.18" stroke="#ee8149" stroke-width="1.25" stroke-dasharray="3.1 2.3"/><circle cx="397.1" cy="836.9" r="1.45" fill="#111"/><circle cx="405.5" cy="835.2" r="1.45" fill="#111"/><circle cx="405.5" cy="837.4" r="1.45" fill="#111"/><circle cx="413.1" cy="828.5" r="1.45" fill="#111"/><circle cx="420.6" cy="816.6" r="1.45" fill="#111"/><circle cx="421.8" cy="826.1" r="1.45" fill="#111"/><circle cx="421.8" cy="827" r="1.45" fill="#111"/><circle cx="428.2" cy="828" r="1.45" fill="#111"/><circle cx="428.2" cy="825.7" r="1.45" fill="#111"/><circle cx="435.8" cy="802.3" r="1.45" fill="#111"/><circle cx="435.8" cy="816.6" r="1.45" fill="#111"/><circle cx="435.4" cy="820.4" r="1.45" fill="#111"/><circle cx="437.7" cy="818.8" r="1.45" fill="#111"/><circle cx="443.4" cy="813.7" r="1.45" fill="#111"/><circle cx="443.4" cy="818.1" r="1.45" fill="#111"/><circle cx="443.4" cy="821.3" r="1.45" fill="#111"/><circle cx="444" cy="822.6" r="1.45" fill="#111"/><circle cx="445.5" cy="821.9" r="1.45" fill="#111"/><circle cx="443.4" cy="837.1" r="1.45" fill="#111"/><circle cx="452.1" cy="814.3" r="1.45" fill="#111"/><circle cx="459.7" cy="813.7" r="1.45" fill="#111"/><circle cx="463" cy="810.9" r="1.45" fill="#111"/><circle cx="466.8" cy="808.4" r="1.45" fill="#111"/><circle cx="466.8" cy="817.5" r="1.45" fill="#111"/><circle cx="475.3" cy="811.4" r="1.45" fill="#111"/><circle cx="484.8" cy="802.3" r="1.45" fill="#111"/><circle cx="489.5" cy="805.6" r="1.45" fill="#111"/><circle cx="489.5" cy="813.3" r="1.45" fill="#111"/><circle cx="504.7" cy="802.3" r="1.45" fill="#111"/><circle cx="504.3" cy="801.9" r="1.45" fill="#111"/><circle cx="573.9" cy="767.5" r="1.45" fill="#111"/></g>
<rect x="387.3" y="730.4" width="290.3" height="112" fill="none" stroke="#4d4d4d" stroke-width="1"/>
<text x="398.05" y="865" text-anchor="middle" font-size="8.6">0</text>
<text x="451.81" y="865" text-anchor="middle" font-size="8.6">500</text>
<text x="505.57" y="865" text-anchor="middle" font-size="8.6">1000</text>
<text x="559.33" y="865" text-anchor="middle" font-size="8.6">1500</text>
<text x="613.09" y="865" text-anchor="middle" font-size="8.6">2000</text>
<text x="666.85" y="865" text-anchor="middle" font-size="8.6">2500</text>
<text transform="translate(372.4 838.25) rotate(-90)" text-anchor="middle" font-size="8.6">0</text>
<text transform="translate(372.4 786.4) rotate(-90)" text-anchor="middle" font-size="8.6">1250</text>
<text transform="translate(372.4 744.11) rotate(-90)" text-anchor="start" font-size="8.6">250</text>
<path d="M398.05 842.9v6M451.81 842.9v6M505.57 842.9v6M559.33 842.9v6M613.09 842.9v6M666.85 842.9v6M386.8 838.25h-6M386.8 786.4h-6M386.8 734.55h-6" stroke="#4d4d4d" stroke-width="1" fill="none"/>
<text x="505.9" y="875.8" font-size="8.8">Venous Blood</text>
<text transform="translate(359.8 782.6) rotate(-90)" text-anchor="middle" font-size="8.8">Capillary Blood</text>
<text x="407.9" y="724.8" font-size="7.8" textLength="249.8" lengthAdjust="spacing" style="white-space:pre"><tspan font-weight="bold">MON:</tspan> Intercept = -6.15 (-54.19 to 16.26); Slope = 1.03 (0.99 to 1.18)</text>
<line x1="393.1" y1="737.9" x2="408.5" y2="737.9" stroke="#2b3aa6" stroke-width="1.5"/>
<text x="414.6" y="741.8" font-size="9.1" textLength="51.6" lengthAdjust="spacingAndGlyphs" style="white-space:pre">-6.16 + 1.03 *</text>
<text x="469.8" y="741.8" font-size="8.3">Venous Blood</text>
<text x="567.3" y="827.5" font-size="10.6" textLength="89.6" lengthAdjust="spacingAndGlyphs">Pearson's r = 0.961</text>
<text x="349" y="732.2" font-size="16.6" font-weight="bold" fill="#2a2a2a">J</text>
<clipPath id="c10"><rect x="44.6" y="909.3" width="294.3" height="113"/></clipPath>
<g clip-path="url(#c10)"><polygon points="42.6,1036.66 45.09,1034.75 47.57,1032.84 50.06,1030.93 52.54,1029.03 55.03,1027.12 57.52,1025.21 60,1023.3 62.49,1021.39 64.97,1019.48 67.46,1017.57 69.94,1015.66 72.43,1013.75 74.92,1011.84 77.4,1009.94 79.89,1008.03 82.37,1006.12 84.86,1004.21 87.34,1002.3 89.83,1000.39 92.32,998.48 94.8,996.57 97.29,994.66 99.77,992.76 102.26,990.85 104.75,988.94 107.23,987.03 109.72,985.12 112.2,983.21 114.69,981.3 117.17,979.39 119.66,977.48 122.15,975.58 124.63,973.67 127.12,971.76 129.6,969.85 132.09,967.94 134.58,966.03 137.06,964.12 139.55,962.21 142.03,960.3 144.52,958.39 147,956.49 149.49,954.58 151.98,952.67 154.46,950.76 156.95,948.85 159.43,946.94 161.92,945.03 164.41,943.12 166.89,941.21 169.38,939.31 171.86,937.4 174.35,935.49 176.83,933.58 179.32,931.67 181.81,929.76 184.29,927.85 186.78,925.94 189.26,924.03 191.75,922.12 194.24,920.22 196.72,918.31 199.21,916.4 201.69,914.49 204.18,912.58 206.66,910.67 209.15,908.76 211.64,906.85 214.12,904.94 216.61,903.04 219.09,901.13 221.58,899.22 224.07,897.31 226.55,895.4 229.04,893.49 231.52,891.58 234.01,889.67 236.49,887.76 238.98,885.86 241.47,883.95 243.95,882.04 246.44,880.13 248.92,878.22 251.41,876.31 253.9,874.4 256.38,872.49 258.87,870.58 261.35,868.67 263.84,866.77 266.32,864.86 268.81,862.95 271.3,861.04 273.78,859.13 276.27,857.22 278.75,855.31 281.24,853.4 283.73,851.49 286.21,849.59 288.7,847.68 291.18,845.77 293.67,843.86 296.15,841.95 298.64,840.04 301.13,838.13 303.61,836.22 306.1,834.31 308.58,832.41 311.07,830.5 313.56,828.59 316.04,826.68 318.53,824.77 321.01,822.86 323.5,820.95 325.99,819.04 328.47,817.13 330.96,815.22 333.44,813.32 335.93,811.41 338.41,809.5 340.9,807.59 340.9,908.53 338.41,909.49 335.93,910.44 333.44,911.4 330.96,912.35 328.47,913.3 325.99,914.26 323.5,915.21 321.01,916.17 318.53,917.12 316.04,918.08 313.56,919.03 311.07,919.99 308.58,920.94 306.1,921.89 303.61,922.85 301.13,923.8 298.64,924.76 296.15,925.71 293.67,926.67 291.18,927.62 288.7,928.58 286.21,929.53 283.73,930.48 281.24,931.44 278.75,932.39 276.27,933.35 273.78,934.3 271.3,935.26 268.81,936.21 266.32,937.17 263.84,938.12 261.35,939.07 258.87,940.03 256.38,940.98 253.9,941.94 251.41,942.89 248.92,943.85 246.44,944.8 243.95,945.76 241.47,946.71 238.98,947.67 236.49,948.62 234.01,949.57 231.52,950.53 229.04,951.48 226.55,952.44 224.07,953.39 221.58,954.35 219.09,955.3 216.61,956.26 214.12,957.21 211.64,958.16 209.15,959.12 206.66,960.07 204.18,961.03 201.69,961.98 199.21,962.94 196.72,963.89 194.24,964.85 191.75,965.8 189.26,966.75 186.78,967.71 184.29,968.66 181.81,969.62 179.32,970.57 176.83,971.53 174.35,972.48 171.86,973.44 169.38,974.39 166.89,975.34 164.41,976.3 161.92,977.25 159.43,978.21 156.95,979.16 154.46,980.12 151.98,981.07 149.49,982.03 147,982.98 144.52,983.93 142.03,984.89 139.55,985.84 137.06,986.8 134.58,987.75 132.09,988.71 129.6,989.66 127.12,990.62 124.63,991.57 122.15,992.53 119.66,993.48 117.17,994.43 114.69,995.39 112.2,996.34 109.72,997.3 107.23,998.25 104.75,999.21 102.26,1000.16 99.77,1001.12 97.29,1002.07 94.8,1003.02 92.32,1003.98 89.83,1004.93 87.34,1005.89 84.86,1006.84 82.37,1007.8 79.89,1008.75 77.4,1009.71 74.92,1010.66 72.43,1011.61 69.94,1012.57 67.46,1013.52 64.97,1014.48 62.49,1015.43 60,1016.39 57.52,1017.34 55.03,1018.3 52.54,1019.25 50.06,1020.2 47.57,1021.16 45.09,1022.11 42.6,1023.07" fill="#bfbfbf"/><line x1="65.6" y1="1016.8" x2="338" y2="1016.8" stroke="#1f6e2c" stroke-width="1.7" stroke-dasharray="1.7 1.8"/><line x1="42.6" y1="1027.62" x2="340.9" y2="875.29" stroke="#2b3aa6" stroke-width="1.65"/><line x1="28.25" y1="1028.58" x2="355.25" y2="903.02" stroke="#ee8149" stroke-width="1.25" stroke-dasharray="3.1 2.3"/><circle cx="55.1" cy="1016.8" r="1.45" fill="#111"/><circle cx="79.6" cy="989.6" r="1.45" fill="#111"/><circle cx="80.5" cy="998.4" r="1.45" fill="#111"/><circle cx="80.5" cy="1008" r="1.45" fill="#111"/><circle cx="79" cy="1008" r="1.45" fill="#111"/><circle cx="104.7" cy="989.6" r="1.45" fill="#111"/><circle cx="103.9" cy="998.6" r="1.45" fill="#111"/><circle cx="106.8" cy="980.3" r="1.45" fill="#111"/><circle cx="104.4" cy="1008" r="1.45" fill="#111"/><circle cx="128.1" cy="980.3" r="1.45" fill="#111"/><circle cx="131" cy="978.8" r="1.45" fill="#111"/><circle cx="128.1" cy="1008" r="1.45" fill="#111"/><circle cx="152.6" cy="980.3" r="1.45" fill="#111"/><circle cx="153.5" cy="989" r="1.45" fill="#111"/><circle cx="201.7" cy="943.8" r="1.45" fill="#111"/><circle cx="225" cy="970.9" r="1.45" fill="#111"/><circle cx="79.8" cy="997.6" r="1.45" fill="#111"/></g>
<rect x="44.6" y="909.3" width="294.3" height="113" fill="none" stroke="#4d4d4d" stroke-width="1"/>
<text x="55.5" y="1044.9" text-anchor="middle" font-size="8.6">0</text>
<text x="110" y="1044.9" text-anchor="middle" font-size="8.6">160</text>
<text x="164.5" y="1044.9" text-anchor="middle" font-size="8.6">320</text>
<text x="219" y="1044.9" text-anchor="middle" font-size="8.6">480</text>
<text x="273.5" y="1044.9" text-anchor="middle" font-size="8.6">640</text>
<text x="328" y="1044.9" text-anchor="middle" font-size="8.6">800</text>
<text transform="translate(29.7 1018.11) rotate(-90)" text-anchor="middle" font-size="8.6">0</text>
<text transform="translate(29.7 965.8) rotate(-90)" text-anchor="middle" font-size="8.6">400</text>
<text transform="translate(29.7 913.49) rotate(-90)" text-anchor="middle" font-size="8.6">800</text>
<path d="M55.5 1022.8v6M110 1022.8v6M164.5 1022.8v6M219 1022.8v6M273.5 1022.8v6M328 1022.8v6M44.1 1018.11h-6M44.1 965.8h-6M44.1 913.49h-6" stroke="#4d4d4d" stroke-width="1" fill="none"/>
<text x="164.7" y="1056.5" font-size="8.8">Venous Blood</text>
<text transform="translate(18.2 963.3) rotate(-90)" text-anchor="middle" font-size="8.8">Capillary Blood</text>
<text x="56.6" y="904.4" font-size="7.8" textLength="266.3" lengthAdjust="spacing" style="white-space:pre"><tspan font-weight="bold">EOS/BAS:</tspan> Intercept = -22.31 (-66.06 to 0.00); Slope = 1.33 (1.00 to 2.00)</text>
<line x1="50.5" y1="917.1" x2="65.8" y2="917.1" stroke="#2b3aa6" stroke-width="1.5"/>
<text x="72.6" y="921" font-size="9.1" textLength="58.6" lengthAdjust="spacingAndGlyphs" style="white-space:pre">-22.32 + 1.33 *</text>
<text x="132.6" y="921" font-size="8.3">Venous Blood</text>
<text x="227.5" y="1006.7" font-size="10.6" textLength="89.6" lengthAdjust="spacingAndGlyphs">Pearson's r = 0.881</text>
<text x="12.6" y="905.4" font-size="16.6" font-weight="bold" fill="#2a2a2a">K</text>
</svg>
</body></html>
